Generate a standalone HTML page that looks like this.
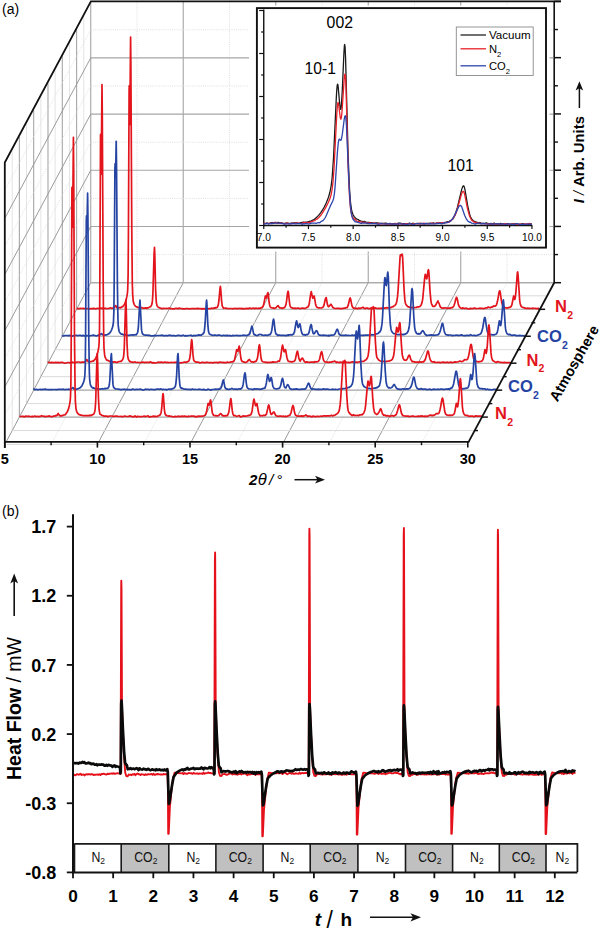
<!DOCTYPE html>
<html><head><meta charset="utf-8"><style>
html,body{margin:0;padding:0;background:#fff;}
svg{display:block;}
text{font-family:'Liberation Sans', sans-serif;}
</style></head><body>
<svg width="600" height="929" viewBox="0 0 600 929">
<rect width="600" height="929" fill="#fff"/>
<line x1="183.24" y1="282.70" x2="183.24" y2="1.70" stroke="#a6a6a6" stroke-width="1.1" />
<line x1="275.74" y1="282.70" x2="275.74" y2="1.70" stroke="#a6a6a6" stroke-width="1.1" />
<line x1="368.24" y1="282.70" x2="368.24" y2="1.70" stroke="#a6a6a6" stroke-width="1.1" />
<line x1="460.74" y1="282.70" x2="460.74" y2="1.70" stroke="#a6a6a6" stroke-width="1.1" />
<line x1="136.99" y1="282.70" x2="136.99" y2="1.70" stroke="#dedede" stroke-width="1" stroke-dasharray="1 1.2"/>
<line x1="229.49" y1="282.70" x2="229.49" y2="1.70" stroke="#dedede" stroke-width="1" stroke-dasharray="1 1.2"/>
<line x1="321.99" y1="282.70" x2="321.99" y2="1.70" stroke="#dedede" stroke-width="1" stroke-dasharray="1 1.2"/>
<line x1="414.49" y1="282.70" x2="414.49" y2="1.70" stroke="#dedede" stroke-width="1" stroke-dasharray="1 1.2"/>
<line x1="506.99" y1="282.70" x2="506.99" y2="1.70" stroke="#dedede" stroke-width="1" stroke-dasharray="1 1.2"/>
<line x1="90.74" y1="282.70" x2="553.24" y2="282.70" stroke="#a6a6a6" stroke-width="1.1" />
<line x1="90.74" y1="226.50" x2="553.24" y2="226.50" stroke="#a6a6a6" stroke-width="1.1" />
<line x1="90.74" y1="170.30" x2="553.24" y2="170.30" stroke="#a6a6a6" stroke-width="1.1" />
<line x1="90.74" y1="114.10" x2="553.24" y2="114.10" stroke="#a6a6a6" stroke-width="1.1" />
<line x1="90.74" y1="57.90" x2="553.24" y2="57.90" stroke="#a6a6a6" stroke-width="1.1" />
<line x1="90.74" y1="254.60" x2="553.24" y2="254.60" stroke="#dedede" stroke-width="1" stroke-dasharray="1 1.2"/>
<line x1="90.74" y1="198.40" x2="553.24" y2="198.40" stroke="#dedede" stroke-width="1" stroke-dasharray="1 1.2"/>
<line x1="90.74" y1="142.20" x2="553.24" y2="142.20" stroke="#dedede" stroke-width="1" stroke-dasharray="1 1.2"/>
<line x1="90.74" y1="86.00" x2="553.24" y2="86.00" stroke="#dedede" stroke-width="1" stroke-dasharray="1 1.2"/>
<line x1="90.74" y1="29.80" x2="553.24" y2="29.80" stroke="#dedede" stroke-width="1" stroke-dasharray="1 1.2"/>
<line x1="90.74" y1="282.70" x2="90.74" y2="1.70" stroke="#a6a6a6" stroke-width="1.1" />
<line x1="19.37" y1="417.10" x2="19.37" y2="137.10" stroke="#a6a6a6" stroke-width="1.1" />
<line x1="33.68" y1="390.15" x2="33.68" y2="110.15" stroke="#a6a6a6" stroke-width="1.1" />
<line x1="47.99" y1="363.20" x2="47.99" y2="83.20" stroke="#a6a6a6" stroke-width="1.1" />
<line x1="62.30" y1="336.25" x2="62.30" y2="56.25" stroke="#a6a6a6" stroke-width="1.1" />
<line x1="76.61" y1="309.30" x2="76.61" y2="29.30" stroke="#a6a6a6" stroke-width="1.1" />
<line x1="12.21" y1="430.57" x2="12.21" y2="150.57" stroke="#e4e4e4" stroke-width="1" />
<line x1="26.52" y1="403.62" x2="26.52" y2="123.62" stroke="#e4e4e4" stroke-width="1" />
<line x1="40.83" y1="376.67" x2="40.83" y2="96.67" stroke="#e4e4e4" stroke-width="1" />
<line x1="55.14" y1="349.72" x2="55.14" y2="69.72" stroke="#e4e4e4" stroke-width="1" />
<line x1="69.46" y1="322.77" x2="69.46" y2="42.77" stroke="#e4e4e4" stroke-width="1" />
<line x1="83.77" y1="295.82" x2="83.77" y2="15.82" stroke="#e4e4e4" stroke-width="1" />
<line x1="5.20" y1="386.20" x2="90.74" y2="226.50" stroke="#909090" stroke-width="0.9" />
<line x1="5.20" y1="330.00" x2="90.74" y2="170.30" stroke="#909090" stroke-width="0.9" />
<line x1="5.20" y1="273.80" x2="90.74" y2="114.10" stroke="#909090" stroke-width="0.9" />
<line x1="5.20" y1="217.60" x2="90.74" y2="57.90" stroke="#909090" stroke-width="0.9" />
<line x1="5.20" y1="414.30" x2="90.74" y2="254.60" stroke="#dedede" stroke-width="0.9" stroke-dasharray="1 1.2"/>
<line x1="5.20" y1="358.10" x2="90.74" y2="198.40" stroke="#dedede" stroke-width="0.9" stroke-dasharray="1 1.2"/>
<line x1="5.20" y1="301.90" x2="90.74" y2="142.20" stroke="#dedede" stroke-width="0.9" stroke-dasharray="1 1.2"/>
<line x1="5.20" y1="245.70" x2="90.74" y2="86.00" stroke="#dedede" stroke-width="0.9" stroke-dasharray="1 1.2"/>
<line x1="5.20" y1="189.50" x2="90.74" y2="29.80" stroke="#dedede" stroke-width="0.9" stroke-dasharray="1 1.2"/>
<line x1="6.20" y1="441.90" x2="90.74" y2="282.70" stroke="#8c8c8c" stroke-width="0.9" />
<line x1="98.70" y1="441.90" x2="183.24" y2="282.70" stroke="#8c8c8c" stroke-width="0.9" />
<line x1="191.20" y1="441.90" x2="275.74" y2="282.70" stroke="#8c8c8c" stroke-width="0.9" />
<line x1="283.70" y1="441.90" x2="368.24" y2="282.70" stroke="#8c8c8c" stroke-width="0.9" />
<line x1="376.20" y1="441.90" x2="460.74" y2="282.70" stroke="#8c8c8c" stroke-width="0.9" />
<line x1="52.45" y1="441.90" x2="136.99" y2="282.70" stroke="#dedede" stroke-width="0.9" stroke-dasharray="1 1.2"/>
<line x1="144.95" y1="441.90" x2="229.49" y2="282.70" stroke="#dedede" stroke-width="0.9" stroke-dasharray="1 1.2"/>
<line x1="237.45" y1="441.90" x2="321.99" y2="282.70" stroke="#dedede" stroke-width="0.9" stroke-dasharray="1 1.2"/>
<line x1="329.95" y1="441.90" x2="414.49" y2="282.70" stroke="#dedede" stroke-width="0.9" stroke-dasharray="1 1.2"/>
<line x1="422.45" y1="441.90" x2="506.99" y2="282.70" stroke="#dedede" stroke-width="0.9" stroke-dasharray="1 1.2"/>
<line x1="19.37" y1="417.10" x2="481.87" y2="417.10" stroke="#a6a6a6" stroke-width="1.1" />
<line x1="33.68" y1="390.15" x2="496.18" y2="390.15" stroke="#a6a6a6" stroke-width="1.1" />
<line x1="47.99" y1="363.20" x2="510.49" y2="363.20" stroke="#a6a6a6" stroke-width="1.1" />
<line x1="62.30" y1="336.25" x2="524.80" y2="336.25" stroke="#a6a6a6" stroke-width="1.1" />
<line x1="76.61" y1="309.30" x2="539.11" y2="309.30" stroke="#a6a6a6" stroke-width="1.1" />
<line x1="12.21" y1="430.57" x2="474.71" y2="430.57" stroke="#dadada" stroke-width="1.0" />
<line x1="26.52" y1="403.62" x2="489.02" y2="403.62" stroke="#dadada" stroke-width="1.0" />
<line x1="40.83" y1="376.67" x2="503.33" y2="376.67" stroke="#dadada" stroke-width="1.0" />
<line x1="55.14" y1="349.72" x2="517.64" y2="349.72" stroke="#dadada" stroke-width="1.0" />
<line x1="69.46" y1="322.77" x2="531.96" y2="322.77" stroke="#dadada" stroke-width="1.0" />
<line x1="83.77" y1="295.82" x2="546.27" y2="295.82" stroke="#dadada" stroke-width="1.0" />
<line x1="90.74" y1="282.70" x2="553.24" y2="282.70" stroke="#a6a6a6" stroke-width="1.1" />
<line x1="6.50" y1="444.40" x2="468.00" y2="444.40" stroke="#d8d8d8" stroke-width="1" />
<polyline points="76.6,308.7 76.6,308.7 77.9,308.7 79.2,308.6 80.5,308.4 81.8,308.5 83.1,308.4 84.4,308.7 85.7,309.0 87.0,308.5 88.3,308.5 89.6,308.8 90.9,308.7 92.2,308.6 93.5,308.4 94.8,308.6 96.1,308.8 97.4,308.3 98.7,308.5 100.0,308.1 101.3,308.2 101.9,308.6 102.6,308.1 103.9,308.5 105.2,308.2 106.5,308.6 107.8,308.5 109.1,308.4 110.4,307.8 111.7,308.2 111.7,308.3 113.0,308.2 113.0,308.2 113.7,307.9 114.3,307.3 115.5,305.8 115.6,305.5 116.6,307.4 116.9,307.6 117.1,307.8 118.2,307.7 118.3,307.9 119.5,307.6 120.3,307.7 120.8,307.8 121.5,307.3 122.1,306.7 122.5,306.7 123.4,305.8 123.4,305.8 124.2,304.8 124.7,304.0 125.7,301.4 126.0,300.2 126.8,296.9 127.4,293.4 127.7,289.7 128.1,276.4 128.4,237.7 129.1,90.7 129.2,86.9 129.2,85.8 129.3,87.2 129.7,121.8 129.8,124.6 129.8,123.4 130.6,37.1 130.9,67.5 131.8,231.7 132.3,283.5 132.7,294.5 133.2,301.0 133.7,303.0 133.8,303.4 134.3,304.6 135.1,305.8 135.1,305.9 136.0,306.6 136.4,306.9 137.7,307.1 137.7,307.4 139.0,307.7 140.2,307.9 140.3,308.2 141.6,307.6 142.9,308.3 143.8,308.1 144.2,308.1 145.5,307.9 146.8,308.4 147.2,307.9 148.1,307.9 148.9,307.5 149.4,307.0 150.2,306.9 150.7,306.5 151.1,305.9 151.8,304.6 152.0,303.8 152.4,300.9 152.9,293.7 154.1,253.1 154.5,247.4 154.8,254.1 155.6,289.8 156.3,302.1 156.8,304.9 157.2,305.9 157.6,306.5 158.5,307.5 158.9,307.5 159.8,307.9 160.9,308.1 161.1,308.3 162.4,308.6 163.7,308.2 164.3,308.4 165.0,308.5 166.3,308.4 167.6,308.5 168.9,308.2 170.2,308.4 170.4,308.6 171.5,308.5 172.8,308.8 174.1,308.9 175.4,308.3 176.7,308.4 178.0,308.8 179.3,308.1 180.6,308.5 181.9,308.6 183.2,308.9 184.5,308.8 185.8,308.6 187.1,308.5 188.4,308.6 189.7,309.0 191.0,308.5 192.3,308.6 193.6,308.7 194.9,308.6 196.2,308.6 197.5,308.4 198.8,308.6 200.1,308.5 201.4,308.9 202.2,308.6 202.7,308.8 204.0,308.6 205.3,308.8 206.6,308.5 207.9,308.8 209.2,308.5 210.5,308.7 211.8,308.1 212.3,308.4 213.1,308.5 214.4,307.8 214.7,308.2 215.7,307.5 216.2,307.9 217.0,307.4 217.1,307.4 217.6,306.8 218.3,304.6 218.4,304.4 219.0,299.7 220.0,288.4 220.4,286.3 220.7,288.6 221.6,301.2 222.2,305.6 222.2,305.8 222.6,306.8 223.2,307.6 223.5,308.3 224.1,308.0 224.8,308.0 225.6,308.3 226.1,308.2 227.4,308.5 228.7,308.6 230.0,308.5 231.3,308.5 232.6,308.8 232.7,308.6 233.9,308.7 235.2,308.3 236.5,308.6 237.8,308.6 239.1,308.3 240.4,308.7 241.7,308.4 243.0,308.9 244.3,308.7 245.6,308.6 246.9,308.4 248.2,308.6 249.5,308.1 250.8,308.3 252.1,308.6 252.3,308.5 253.4,308.0 254.7,308.7 256.0,308.0 257.3,308.6 258.5,308.3 258.6,308.1 259.9,308.4 261.2,307.9 261.5,307.8 262.5,306.8 262.6,307.0 263.4,305.5 263.8,304.1 265.3,296.2 265.5,296.0 266.2,297.5 266.4,298.0 266.5,297.5 267.6,293.1 267.9,292.6 268.3,294.2 269.0,301.3 269.5,304.5 270.0,306.3 270.3,306.9 270.6,307.3 271.2,307.7 271.6,307.8 272.3,308.0 272.9,307.9 274.2,308.4 275.1,308.1 275.5,307.8 276.1,307.6 276.8,306.8 277.5,306.0 277.9,305.8 278.1,305.7 278.3,306.1 279.3,307.5 279.4,307.5 280.0,308.0 280.7,307.8 281.6,308.1 282.0,308.4 283.3,307.9 283.6,307.9 284.4,307.5 284.6,307.6 285.0,307.0 285.8,305.1 285.9,304.8 286.5,301.6 287.6,292.7 288.1,291.2 288.5,292.9 289.5,302.5 289.8,304.6 290.1,305.8 290.5,306.8 291.0,307.4 291.1,307.5 291.7,307.9 292.4,307.9 292.9,308.2 293.7,308.3 295.0,308.2 296.3,308.3 297.2,308.4 297.6,308.1 298.9,308.2 300.2,308.8 301.5,308.2 302.8,308.0 303.3,308.3 304.1,308.3 305.4,308.4 306.2,307.9 306.7,307.3 307.8,307.1 308.0,306.8 308.5,306.0 309.2,304.0 309.3,303.1 310.8,293.2 311.3,291.6 312.6,297.9 312.8,298.2 313.0,298.0 313.2,297.3 313.8,296.2 314.0,296.0 314.2,296.1 315.5,303.7 315.8,305.1 316.1,305.9 316.9,307.2 317.1,307.4 318.2,307.8 318.4,307.9 319.7,307.8 319.9,308.0 321.0,308.0 321.5,307.9 322.3,307.5 322.5,307.5 323.2,306.9 323.6,306.2 324.1,304.9 324.9,301.0 325.5,298.6 326.0,297.5 326.2,297.5 326.4,298.6 327.5,304.9 327.5,304.6 328.2,306.4 328.6,306.7 328.8,306.5 329.1,306.5 330.1,305.3 330.5,304.6 331.0,304.3 331.4,304.8 331.4,304.8 332.7,307.2 332.8,307.4 333.5,308.0 334.0,308.0 334.4,308.2 335.3,308.5 336.6,308.3 337.7,308.4 337.9,308.4 339.2,308.4 340.5,308.7 341.8,308.6 342.8,308.4 343.1,308.4 344.4,308.1 345.4,308.1 345.7,307.7 346.7,307.7 347.0,307.7 347.5,306.9 348.1,305.7 348.3,305.1 349.6,299.3 349.7,298.9 350.2,298.0 350.6,298.8 350.9,300.4 351.6,304.1 352.2,306.5 352.2,306.3 352.9,307.5 353.5,308.1 354.1,308.1 354.8,308.5 356.1,308.2 356.6,308.4 357.4,308.8 358.7,308.1 359.7,308.4 360.0,308.5 360.9,308.1 361.3,308.1 362.6,307.5 363.0,307.2 363.9,308.1 365.2,308.7 365.2,308.3 366.5,308.2 367.8,308.1 367.9,308.5 369.1,308.7 370.4,308.2 371.7,308.5 373.0,308.7 374.3,308.1 375.6,307.9 376.9,308.5 378.2,308.4 379.5,308.3 380.8,308.4 382.1,308.1 383.3,308.3 383.4,307.9 384.7,308.2 386.0,307.9 387.3,307.6 387.7,308.0 388.6,308.0 389.9,307.7 390.7,307.5 391.2,307.5 392.5,306.7 393.0,306.7 393.8,306.1 395.1,305.1 395.1,305.4 396.1,303.9 396.4,302.7 396.8,301.4 397.5,296.9 398.1,290.0 400.1,256.4 400.4,254.9 401.2,255.6 402.0,254.1 402.4,255.2 402.7,258.4 404.0,288.4 404.8,299.4 405.3,302.5 405.5,303.3 406.0,304.6 406.8,305.5 407.0,305.9 408.1,306.8 408.6,306.9 409.4,307.2 410.2,307.3 410.7,307.9 412.0,307.2 412.2,307.6 413.3,307.8 414.6,307.6 414.6,307.6 415.9,307.5 416.8,307.4 417.2,306.9 418.4,307.0 418.5,306.9 419.7,306.5 419.8,306.6 420.5,305.8 421.1,305.1 421.2,304.9 422.1,302.3 422.4,300.8 422.8,298.1 424.6,278.7 425.1,274.9 425.3,274.3 425.5,274.5 426.3,278.3 426.5,278.8 426.8,278.7 427.2,276.9 428.0,270.7 428.4,269.7 428.6,270.2 428.9,272.6 430.1,292.4 430.9,300.6 431.3,303.1 431.5,303.8 431.9,304.8 432.5,305.8 432.8,306.3 433.5,306.4 434.1,306.5 434.5,306.4 435.3,305.9 435.4,305.2 436.0,304.8 436.7,303.1 437.4,301.9 437.9,301.4 438.0,300.9 438.4,302.1 439.3,304.0 440.0,306.3 440.6,307.2 440.6,307.1 441.3,307.7 441.9,308.2 443.2,308.1 443.2,308.1 444.5,307.9 445.8,308.0 446.8,308.2 447.1,308.5 448.4,308.2 449.7,308.1 450.2,308.1 451.0,307.9 452.1,307.7 452.3,307.6 453.1,306.9 453.6,306.4 454.0,305.5 454.9,302.7 456.0,298.2 456.2,297.8 456.3,297.5 456.6,297.3 457.1,298.4 457.5,299.9 458.2,303.7 458.8,305.8 458.9,305.9 459.7,307.3 460.1,307.5 460.8,308.0 461.4,308.4 462.7,308.3 462.7,307.9 464.0,308.3 465.3,308.4 465.8,308.4 466.6,308.1 467.9,308.9 469.2,308.9 470.5,308.4 471.8,308.7 473.1,308.6 474.4,307.9 475.7,308.6 477.0,308.5 478.3,308.5 479.0,308.5 479.6,308.2 480.9,308.4 482.2,308.4 483.5,308.7 484.5,308.3 484.8,308.3 486.1,307.9 487.4,307.8 488.0,307.2 488.7,307.2 489.9,307.6 490.0,307.6 490.8,307.6 491.3,306.9 491.6,307.2 492.6,306.9 493.7,305.8 493.9,306.0 495.2,306.2 495.5,305.9 496.3,305.1 496.5,304.8 497.2,302.3 497.8,299.6 499.0,292.6 499.4,291.3 499.7,290.8 500.0,291.2 500.2,292.4 501.7,302.4 501.9,303.0 502.4,304.9 503.0,306.3 503.0,306.3 503.9,307.2 504.3,307.4 505.5,307.7 505.6,307.7 506.9,308.1 508.0,307.7 508.2,307.8 509.5,307.4 510.1,307.3 510.8,306.7 511.1,306.5 511.8,305.1 512.1,303.7 513.6,296.1 513.7,296.0 513.8,296.3 514.6,299.0 514.7,299.5 514.9,299.1 515.2,298.2 515.9,292.1 517.2,274.6 517.4,272.4 517.7,271.9 518.1,275.6 519.6,299.3 519.9,301.9 520.2,303.7 521.0,306.0 521.2,306.4 521.6,306.8 522.4,307.3 522.5,307.3 523.8,307.6 525.1,308.1 525.2,308.1 526.4,308.5 527.7,308.2 529.0,308.3 529.9,308.4 530.3,308.4 531.6,308.5 532.9,308.1 534.2,308.5 535.5,308.3 536.8,308.8 538.1,308.4 539.1,308.6" fill="none" stroke="#e3141c" stroke-width="1.7" stroke-linejoin="round" />
<polyline points="62.3,335.6 62.3,335.8 63.6,336.0 64.9,335.5 66.2,335.5 67.5,335.7 68.8,335.6 70.1,335.4 71.4,335.7 72.7,336.1 74.0,335.5 75.3,335.5 76.6,335.3 77.9,335.7 79.2,335.3 80.5,335.3 81.8,335.9 83.1,335.4 84.4,335.8 85.7,335.9 87.0,335.6 88.3,335.7 89.6,336.0 90.9,335.5 92.2,335.4 93.5,335.2 94.8,335.5 96.1,335.8 97.4,335.6 97.7,335.4 98.7,335.1 99.8,335.1 100.0,334.7 101.3,333.6 101.5,333.7 102.6,334.8 103.1,335.0 103.9,335.0 105.2,335.1 106.0,334.9 106.5,334.9 107.8,334.3 108.2,334.2 109.1,333.5 109.9,332.8 110.4,332.1 111.4,330.3 111.7,329.6 112.5,327.2 113.0,325.3 113.1,324.5 113.5,321.3 113.9,310.9 114.2,280.9 114.9,168.7 115.1,163.7 115.4,176.0 115.5,176.8 115.6,175.7 116.2,141.3 116.5,162.1 117.4,284.7 117.9,317.0 118.2,325.0 118.2,325.2 118.8,330.1 119.2,331.5 119.5,332.2 119.9,332.7 120.6,333.6 120.8,333.7 121.6,334.2 122.1,334.0 123.3,334.7 123.4,334.9 124.7,334.5 125.6,335.1 126.0,334.7 127.3,335.4 128.6,335.4 129.9,335.2 131.2,334.8 132.5,335.2 132.5,335.1 133.8,334.9 134.3,334.9 135.1,334.9 135.7,334.6 136.4,334.8 136.6,334.0 137.3,333.2 137.7,332.2 137.9,331.0 138.4,326.7 139.7,303.0 140.0,300.0 141.5,329.5 141.6,330.2 142.2,333.1 142.7,334.0 142.9,333.9 143.4,334.6 144.2,334.9 145.2,335.1 145.5,335.1 146.8,335.0 148.1,335.4 148.3,335.4 149.4,335.2 150.7,335.8 152.0,335.8 153.3,335.8 154.6,335.4 155.9,335.7 157.2,335.5 158.5,335.5 159.8,335.5 161.1,335.3 162.4,335.2 163.7,335.8 165.0,335.5 166.3,335.6 166.8,335.6 167.6,335.8 168.9,335.2 170.2,335.4 171.5,335.6 172.8,335.7 174.1,335.5 175.4,335.8 176.7,335.6 178.0,335.3 179.3,335.4 180.6,335.8 181.9,335.7 183.2,335.1 184.5,335.9 185.8,335.7 187.1,335.9 188.4,335.5 189.7,335.5 191.0,335.2 192.3,336.1 193.6,335.4 194.8,335.5 194.9,335.9 196.2,335.3 197.5,335.4 198.8,334.8 199.4,335.2 200.1,335.0 201.4,335.1 201.9,334.6 202.7,333.9 203.0,334.0 203.7,333.1 204.0,332.6 204.2,331.7 204.5,329.6 205.2,322.2 206.3,302.5 206.6,300.0 206.9,303.6 207.8,323.7 207.9,325.1 208.4,330.8 208.8,332.6 209.2,333.3 209.4,333.9 210.4,334.6 210.5,334.5 211.8,335.0 211.8,335.1 213.1,335.3 214.4,335.2 215.7,335.2 216.3,335.5 217.0,335.4 218.3,335.2 219.6,335.2 220.9,335.5 222.2,335.8 223.5,335.2 224.8,335.6 226.1,335.4 227.4,335.6 227.4,335.3 228.7,335.8 230.0,335.4 231.3,336.0 232.6,335.4 233.9,335.7 235.2,335.5 236.5,335.4 237.8,335.7 239.1,335.5 240.4,335.7 241.7,335.5 243.0,335.5 243.0,335.2 244.3,335.4 245.6,335.4 246.9,335.6 248.0,335.1 248.2,334.9 249.1,334.7 249.5,334.2 249.9,333.5 250.5,331.6 250.8,329.9 251.5,327.1 251.9,326.2 252.1,326.6 252.3,327.1 253.4,332.6 253.5,333.2 254.0,334.3 254.6,334.9 254.7,334.5 255.9,335.2 256.0,335.2 257.3,335.6 257.9,335.3 258.6,334.8 259.9,334.4 260.6,334.5 261.2,334.5 262.2,335.2 262.5,335.0 263.2,335.3 263.8,335.5 265.1,335.1 266.4,335.1 266.5,335.3 267.7,335.3 269.0,334.9 269.0,334.7 269.8,334.6 270.3,334.4 270.4,334.2 271.3,332.4 271.6,331.0 272.0,328.8 273.1,320.4 273.6,319.1 274.0,320.9 275.0,330.0 275.5,332.4 275.5,332.8 275.9,333.8 276.4,334.4 276.8,334.2 277.2,334.9 278.1,335.6 278.4,335.1 279.4,335.2 280.7,335.4 282.0,335.4 282.4,335.4 283.3,335.4 284.6,335.4 285.9,335.8 287.2,335.1 288.5,335.3 288.5,334.9 289.8,334.9 291.1,334.7 291.5,334.9 292.4,334.8 293.1,334.3 293.7,333.7 293.8,333.3 294.5,331.6 295.0,328.7 296.1,322.2 296.6,320.8 296.8,321.5 297.6,325.5 297.6,326.0 298.0,327.3 298.2,327.5 298.5,327.3 298.9,326.1 299.5,324.2 299.7,323.8 299.9,323.8 300.2,325.1 300.3,325.2 301.2,330.9 301.5,331.4 301.8,333.0 302.6,334.3 302.8,334.6 303.9,334.8 304.1,334.6 305.4,335.2 305.4,334.9 306.7,334.5 306.9,334.8 307.8,334.4 308.0,334.2 308.4,333.8 309.2,331.9 309.3,331.2 310.6,325.4 310.6,325.6 311.1,324.5 311.6,325.6 311.9,327.9 312.7,331.8 313.2,333.4 313.4,333.6 313.9,333.8 314.5,333.5 314.5,333.4 315.8,331.2 316.0,331.0 316.5,330.7 317.1,331.2 318.4,334.4 318.4,334.3 319.0,334.9 319.7,335.1 320.0,335.2 321.0,335.3 322.3,335.4 323.6,335.1 324.9,335.4 326.2,335.4 327.5,335.8 328.6,335.4 328.8,335.9 330.1,335.4 331.4,335.1 332.0,335.3 332.7,335.2 333.6,335.0 334.0,334.7 334.4,334.6 335.0,333.8 335.3,333.1 336.6,330.0 336.7,329.8 337.2,329.2 337.6,329.8 337.9,330.3 338.6,332.8 339.2,334.2 339.2,334.3 340.0,334.9 340.5,335.1 341.1,335.3 341.8,335.4 343.1,335.4 344.4,335.3 345.7,335.2 347.0,335.4 348.0,335.5 348.3,335.3 349.6,335.5 350.9,335.5 352.2,335.1 353.5,335.5 354.8,335.1 356.1,335.3 357.4,335.4 358.7,334.9 360.0,335.4 361.3,335.4 362.6,335.3 363.9,335.2 364.0,335.3 365.2,335.2 366.5,335.0 367.8,335.1 369.1,335.0 370.4,335.0 371.1,335.0 371.7,334.6 373.0,334.8 374.3,334.6 375.5,334.3 375.6,334.3 376.9,333.8 377.9,333.5 378.2,333.5 379.5,331.9 379.6,332.2 380.6,330.5 380.8,330.3 381.4,327.8 382.1,323.0 382.6,316.3 384.2,285.6 384.7,278.6 384.9,277.7 385.0,277.7 385.1,278.0 385.9,284.5 386.1,285.4 386.3,285.5 386.7,282.8 387.5,273.7 387.8,272.1 388.3,276.5 389.5,311.3 390.4,325.2 391.0,328.9 391.2,329.9 391.6,331.1 392.5,332.5 392.6,332.6 393.8,333.6 394.2,333.7 395.1,333.8 396.0,334.2 396.4,334.3 397.7,334.7 398.4,334.6 399.0,334.7 400.3,334.7 401.2,334.6 401.6,334.2 402.9,334.6 403.7,334.4 404.2,334.6 405.4,333.9 405.5,334.1 406.7,333.3 406.8,333.2 407.5,332.4 408.1,331.0 408.2,331.2 409.0,327.8 409.4,325.2 409.7,322.4 411.6,292.8 411.8,289.8 412.1,288.6 412.6,292.1 413.8,316.8 414.6,327.1 414.6,327.2 415.1,330.2 415.7,332.0 415.9,331.8 416.4,333.1 417.2,333.8 417.6,333.9 418.5,333.7 418.9,334.1 419.8,333.7 420.1,333.8 420.9,333.1 421.1,332.6 422.3,331.0 422.4,331.2 422.8,330.7 423.3,331.1 423.7,331.7 424.9,334.0 425.0,334.2 425.5,334.6 426.3,335.3 426.3,334.9 427.6,335.5 428.8,335.2 428.9,335.2 430.2,335.2 431.5,334.9 432.8,335.1 433.2,335.2 434.1,335.3 435.4,335.2 436.2,335.0 436.7,335.0 437.9,334.6 438.0,334.8 439.0,333.8 439.3,333.2 439.8,332.3 440.5,330.0 440.6,329.7 441.9,324.4 441.9,324.5 442.2,323.5 442.5,323.3 443.0,324.4 443.2,325.6 444.1,330.4 444.5,332.1 444.8,332.8 445.6,334.2 445.8,334.5 446.7,334.9 447.1,334.9 448.4,335.3 448.5,335.2 449.7,335.0 451.0,335.0 451.3,335.4 452.3,335.6 453.6,335.4 454.9,335.5 456.2,335.0 457.5,335.4 458.8,335.3 460.1,335.3 461.4,334.9 462.7,335.4 463.3,335.5 464.0,335.7 465.3,335.6 466.6,335.3 467.9,335.4 469.2,335.6 470.5,334.7 471.8,335.3 473.1,335.5 473.7,335.3 474.4,335.4 475.7,335.6 477.0,335.3 478.3,334.9 478.6,334.8 479.6,334.5 479.7,334.4 480.5,333.8 480.9,333.5 481.2,332.9 481.7,331.7 482.2,329.9 482.7,328.0 484.2,319.0 484.5,317.8 484.8,317.4 485.1,317.8 485.4,319.1 486.1,324.3 487.0,329.9 487.4,331.8 487.5,331.9 488.1,333.3 488.7,334.5 489.0,334.2 490.0,334.5 490.6,334.7 491.3,334.7 492.6,334.8 493.3,334.7 493.9,335.0 495.2,334.4 495.5,334.3 496.5,334.0 496.7,333.4 497.4,331.8 497.8,329.9 499.3,320.8 499.4,320.8 499.5,321.2 500.4,325.3 500.4,325.4 500.6,325.5 500.9,324.8 501.6,319.4 502.9,302.5 503.1,300.5 503.4,300.0 503.8,303.6 505.3,326.5 505.6,328.9 505.9,330.8 506.7,333.0 506.9,333.5 507.3,333.8 508.2,334.4 508.2,334.6 509.5,334.4 510.8,334.8 510.9,335.1 512.1,335.3 513.4,335.1 514.7,335.0 515.6,335.4 516.0,335.7 517.3,335.6 518.6,335.6 519.9,335.4 521.2,335.8 522.5,335.5 523.8,335.8 524.8,335.6" fill="none" stroke="#2443a2" stroke-width="1.7" stroke-linejoin="round" />
<polyline points="48.0,362.6 48.0,362.3 49.3,362.3 50.6,362.6 51.9,362.4 53.2,362.7 54.5,362.6 55.8,362.3 57.1,362.6 58.4,362.4 59.7,362.8 61.0,362.4 62.3,362.4 63.6,362.8 64.9,363.1 66.2,363.0 67.5,362.5 68.8,362.5 70.1,362.9 71.4,362.4 72.7,362.2 73.3,362.5 74.0,362.5 75.3,362.6 76.6,362.2 77.9,362.0 79.2,362.0 80.5,362.5 81.8,362.1 83.1,362.2 83.1,362.2 84.4,362.1 84.4,362.1 85.1,361.7 85.7,361.3 86.8,359.6 87.0,359.6 87.9,361.2 88.3,361.7 88.5,361.7 89.6,361.6 89.7,361.8 90.9,361.6 91.7,361.5 92.2,361.1 92.9,361.1 93.5,361.1 93.9,360.5 94.8,359.7 94.8,359.6 95.6,358.6 96.1,357.4 97.1,355.1 97.4,353.9 98.2,350.5 98.8,346.9 99.1,343.1 99.5,329.6 99.8,289.9 100.5,139.5 100.5,135.5 100.6,134.4 100.7,135.9 101.0,171.3 101.2,174.1 101.2,172.9 102.0,84.6 102.3,115.7 103.2,283.7 103.7,336.8 104.0,348.1 104.6,354.7 105.0,356.8 105.2,357.2 105.7,358.4 106.4,359.6 106.5,359.9 107.4,360.5 107.8,360.3 109.1,361.0 109.1,361.3 110.4,361.5 111.5,361.8 111.7,362.4 113.0,362.1 114.3,361.9 115.1,361.9 115.6,362.1 116.9,362.4 118.2,361.7 118.5,361.8 119.5,361.5 120.3,361.4 120.8,361.5 121.6,360.8 122.1,360.4 122.5,359.8 123.1,358.4 123.4,357.6 123.8,354.6 124.3,347.2 125.5,305.7 125.9,299.9 126.2,306.7 127.0,343.3 127.7,355.9 128.2,358.8 128.6,359.7 129.0,360.4 129.9,361.7 130.2,361.4 131.2,362.2 132.3,362.0 132.5,362.2 133.8,362.3 135.1,361.8 135.7,362.3 136.4,362.5 137.7,362.3 139.0,362.5 140.3,362.6 141.6,362.4 141.7,362.5 142.9,362.0 144.2,362.6 145.5,362.3 146.8,362.4 148.1,362.4 149.4,362.4 150.7,361.9 152.0,362.8 153.3,362.6 154.6,362.8 155.9,363.0 157.2,362.5 158.5,362.1 159.8,362.3 161.1,362.2 162.4,362.4 163.7,362.6 165.0,362.0 166.3,362.6 167.6,362.2 168.9,362.6 170.2,362.5 171.5,362.4 172.8,362.5 173.6,362.5 174.1,362.4 175.4,362.4 176.7,362.1 178.0,362.5 179.3,362.9 180.6,362.9 181.9,362.7 183.2,362.5 183.7,362.3 184.5,362.1 185.8,362.5 186.1,362.1 187.1,361.9 187.6,361.8 188.4,361.3 188.5,361.3 189.0,360.7 189.7,358.6 189.8,358.2 190.4,353.4 191.3,341.8 191.7,339.7 192.1,342.0 193.0,354.9 193.6,359.5 193.6,359.6 194.0,360.6 194.6,361.4 194.9,361.5 195.5,361.9 196.2,362.1 197.0,362.2 197.5,362.0 198.8,362.3 200.1,363.0 201.4,362.4 202.7,362.4 204.0,362.6 204.1,362.5 205.3,362.7 206.6,362.2 207.9,362.5 209.2,362.7 210.5,362.6 211.8,362.5 213.1,362.9 214.4,362.3 215.7,362.5 217.0,362.4 218.3,362.9 219.6,362.0 220.9,362.3 222.2,362.3 223.5,362.6 223.6,362.4 224.8,362.6 226.1,362.7 227.4,362.0 228.7,362.5 229.9,362.2 230.0,362.1 231.3,361.9 232.6,361.9 232.9,361.7 233.9,360.8 234.0,360.9 234.7,359.3 235.2,357.0 236.6,349.8 236.9,349.6 237.6,351.1 237.7,351.3 237.8,351.2 237.9,351.2 239.0,346.6 239.2,346.1 239.6,347.8 240.4,354.6 240.9,358.3 241.4,360.2 241.7,360.7 242.0,361.2 242.6,361.6 243.0,361.8 243.7,361.9 244.3,362.1 245.6,362.4 246.5,362.0 246.9,361.8 247.5,361.5 248.2,360.3 248.8,359.8 249.3,359.6 249.5,359.5 249.7,359.9 250.7,361.4 250.8,361.3 251.4,361.9 252.1,361.7 253.0,362.0 253.4,362.1 254.7,361.6 254.9,361.7 255.8,361.4 256.0,360.8 256.4,360.8 257.2,358.9 257.3,358.8 257.9,355.3 259.0,346.2 259.4,344.7 259.8,346.5 260.8,356.3 261.2,358.5 261.4,359.6 261.8,360.7 262.3,361.3 262.5,361.5 263.1,361.8 263.8,362.0 264.3,362.0 265.1,362.3 266.4,362.2 267.7,362.6 268.5,362.3 269.0,362.4 270.3,362.4 271.6,362.4 272.9,361.9 274.2,362.1 274.7,362.2 275.5,362.0 276.8,362.0 277.6,361.7 278.1,361.2 279.1,361.0 279.4,361.1 279.9,359.8 280.5,357.8 280.7,357.0 282.1,346.7 282.6,345.1 284.0,351.5 284.2,351.8 284.4,351.7 284.6,351.1 285.2,349.8 285.4,349.6 285.6,349.7 286.9,357.5 287.2,358.3 287.5,359.7 288.2,361.1 288.5,361.2 289.6,361.7 289.8,361.7 291.1,361.7 291.2,361.9 292.4,361.8 292.9,361.7 293.7,361.3 293.9,361.4 294.6,360.8 295.0,360.2 295.5,358.7 296.3,354.9 296.9,352.3 297.4,351.1 297.6,351.5 297.8,352.3 298.9,358.6 298.9,358.4 299.6,360.3 300.0,360.5 300.2,361.2 300.5,360.4 301.5,358.7 301.9,358.4 302.4,358.1 302.8,358.5 302.8,358.6 304.1,361.0 304.2,361.3 304.8,361.9 305.4,362.3 305.7,362.1 306.7,361.9 308.0,362.2 309.1,362.3 309.3,362.3 310.6,362.1 311.9,362.1 313.2,362.2 314.2,362.3 314.5,361.7 315.8,361.8 316.8,362.0 317.1,361.8 318.1,361.5 318.4,361.3 318.8,360.8 319.4,359.5 319.7,358.7 321.0,352.6 321.1,352.6 321.6,351.6 322.0,352.5 322.3,353.9 323.0,357.9 323.6,360.3 323.6,360.2 324.3,361.4 324.9,361.9 325.5,362.0 326.2,362.1 327.5,362.0 327.9,362.3 328.8,362.4 330.1,362.2 331.1,362.2 331.4,361.9 332.3,362.0 332.7,361.6 334.0,361.5 334.4,361.1 335.3,361.6 336.6,362.5 336.6,362.2 337.9,362.2 339.2,362.6 339.3,362.4 340.5,362.2 341.8,362.3 343.1,363.0 344.4,362.6 345.7,362.2 347.0,362.3 348.3,362.4 349.6,362.6 350.9,362.2 352.2,361.8 353.5,362.1 354.7,362.2 354.8,362.2 356.1,362.1 357.4,362.3 358.7,362.0 359.1,361.9 360.0,362.0 361.3,361.3 362.1,361.4 362.6,361.5 363.9,361.4 364.4,360.6 365.2,360.3 366.5,359.3 366.5,359.2 367.4,357.7 367.8,356.7 368.2,355.1 368.8,350.6 369.4,343.5 371.4,309.1 371.8,307.6 372.6,308.2 373.4,306.7 373.8,307.8 374.1,311.1 375.4,341.9 376.2,353.1 376.7,356.3 376.9,357.4 377.4,358.4 378.2,359.3 378.4,359.8 379.5,360.5 379.9,360.7 380.8,361.1 381.5,361.2 382.1,361.5 383.4,361.3 383.5,361.4 384.7,361.6 386.0,361.5 386.0,361.4 387.3,361.4 388.2,361.2 388.6,361.1 389.8,360.9 389.9,360.6 391.0,360.3 391.2,360.2 391.9,359.7 392.5,359.1 392.6,358.7 393.5,356.1 393.8,354.3 394.2,351.7 396.0,331.9 396.5,328.0 396.6,327.4 396.9,327.6 397.7,331.5 397.9,332.0 398.1,331.9 398.6,330.0 399.4,323.7 399.7,322.7 400.0,323.1 400.2,325.6 401.5,345.9 402.2,354.3 402.7,356.8 402.9,357.5 403.2,358.6 403.9,359.6 404.2,360.0 404.9,360.2 405.5,360.1 405.9,360.3 406.7,359.7 406.8,359.6 407.4,358.6 408.1,356.8 408.7,355.6 409.3,355.1 409.4,355.4 409.8,355.8 410.7,359.2 411.3,360.2 412.0,361.1 412.0,361.6 412.7,361.6 413.3,361.7 414.6,361.9 414.6,362.1 415.9,362.1 417.2,362.1 418.2,362.1 418.5,362.5 419.8,361.7 421.1,362.3 421.6,362.0 422.4,361.8 423.4,361.6 423.7,361.8 424.5,360.8 425.0,360.1 425.3,359.4 426.3,356.1 427.4,351.9 427.6,351.4 427.7,351.1 428.0,350.9 428.5,352.0 428.9,354.1 429.6,357.4 430.2,359.5 430.3,359.8 431.1,361.1 431.5,361.6 432.2,361.8 432.8,361.8 434.0,362.2 434.1,361.6 435.4,362.5 436.7,362.5 437.2,362.3 438.0,362.4 439.3,362.4 440.6,362.7 441.9,362.3 443.2,362.2 444.5,362.4 445.8,362.7 447.1,362.1 448.4,362.7 449.7,362.2 450.4,362.4 451.0,362.1 452.3,362.7 453.6,362.3 454.9,361.9 455.9,362.2 456.2,362.0 457.5,362.0 458.8,361.5 459.4,361.1 460.1,361.1 461.2,361.5 461.4,361.6 462.1,361.5 462.7,361.4 463.0,361.1 464.0,360.2 465.1,359.6 465.3,359.7 466.6,359.8 466.9,359.7 467.7,358.9 467.9,358.3 468.6,356.0 469.2,353.1 470.4,346.1 470.7,344.8 471.1,344.3 471.3,344.7 471.6,345.9 473.1,356.1 473.2,356.8 473.7,358.8 474.3,360.2 474.4,360.2 475.3,361.1 475.7,361.1 476.8,361.5 477.0,361.5 478.3,361.9 479.3,361.6 479.6,361.6 480.9,361.5 481.4,361.1 482.2,361.0 482.5,360.3 483.2,358.9 483.5,357.8 484.9,349.7 485.1,349.6 485.2,349.9 486.0,352.7 486.1,353.4 486.3,352.7 486.6,351.9 487.3,345.6 488.5,327.6 488.8,325.4 489.0,325.0 489.5,328.7 491.0,352.9 491.3,355.3 491.6,357.4 492.4,359.8 492.6,360.4 493.0,360.6 493.8,361.2 493.9,361.2 495.2,362.2 496.5,362.4 496.5,362.0 497.8,361.6 499.1,362.0 500.4,362.5 501.3,362.3 501.7,362.5 503.0,362.6 504.3,362.4 505.6,362.6 506.9,362.6 508.2,362.5 509.5,362.7 510.5,362.5" fill="none" stroke="#e3141c" stroke-width="1.7" stroke-linejoin="round" />
<polyline points="33.7,389.5 33.7,389.0 35.0,389.7 36.3,389.3 37.6,389.8 38.9,389.5 40.2,389.3 41.5,389.6 42.8,389.3 44.1,389.3 45.4,389.1 46.7,389.5 48.0,389.6 49.3,389.7 50.6,389.5 51.9,389.7 53.2,389.5 54.5,389.5 55.8,389.6 57.1,389.7 58.4,389.4 59.7,389.4 61.0,389.4 62.3,389.4 63.6,389.2 64.9,389.7 66.2,389.3 67.5,389.5 68.8,389.1 69.1,389.3 70.1,389.3 71.1,389.0 71.4,388.9 72.7,387.5 72.9,387.5 74.0,389.1 74.5,388.9 75.3,389.1 76.6,389.3 77.4,388.8 77.9,388.9 79.2,388.1 79.6,388.1 80.5,387.3 81.2,386.6 81.8,386.0 82.7,384.2 83.1,383.4 83.9,381.0 84.4,379.0 84.5,378.3 84.9,375.0 85.3,364.5 85.6,334.2 86.3,220.9 86.5,215.8 86.8,228.3 86.9,229.1 87.0,228.0 87.6,193.2 87.9,214.2 88.8,338.1 89.3,370.8 89.6,378.2 89.6,379.0 90.2,383.9 90.6,385.4 90.9,385.5 91.2,386.6 92.0,387.4 92.2,387.5 93.0,388.1 93.5,387.7 94.7,388.6 94.8,388.7 96.1,388.7 96.9,389.0 97.4,388.8 98.7,389.0 100.0,389.2 101.3,388.8 102.6,388.7 103.8,389.0 103.9,388.8 105.2,388.4 105.7,388.8 106.5,388.4 107.1,388.5 107.8,388.5 108.0,387.9 108.7,387.1 109.1,385.7 109.3,384.8 109.8,380.5 111.0,356.6 111.4,353.6 112.9,383.3 113.0,384.4 113.5,387.0 114.0,387.9 114.3,387.8 114.8,388.5 115.6,388.9 116.5,389.0 116.9,389.0 118.2,389.2 119.5,389.4 119.7,389.3 120.8,389.8 122.1,389.4 123.4,389.4 124.7,389.2 126.0,389.6 127.3,389.4 128.6,389.7 129.9,389.5 131.2,389.9 132.5,389.0 133.8,389.4 135.1,389.7 136.4,389.4 137.7,389.3 138.2,389.5 139.0,389.4 140.3,389.1 141.6,389.5 142.9,390.1 144.2,389.8 145.5,389.2 146.8,389.3 148.1,389.4 149.4,389.7 150.7,389.3 152.0,389.3 153.3,389.7 154.6,389.7 155.9,389.4 157.2,389.2 158.5,389.1 159.8,389.3 161.1,388.9 162.4,389.6 163.7,389.3 165.0,389.5 166.2,389.4 166.3,389.8 167.6,389.6 168.9,389.0 170.2,389.4 170.8,389.1 171.5,389.3 172.8,388.5 173.3,388.5 174.1,387.9 174.4,387.9 175.0,387.0 175.4,386.1 175.5,385.6 175.9,383.5 176.6,375.9 177.6,356.0 178.0,353.6 178.3,357.1 179.2,377.5 179.3,378.4 179.8,384.6 180.2,386.5 180.6,387.8 180.8,387.7 181.8,388.5 181.9,388.0 183.2,388.7 183.2,389.0 184.5,389.1 185.8,389.2 187.1,389.4 187.7,389.4 188.4,389.4 189.7,389.4 191.0,389.7 192.3,388.9 193.6,389.5 194.9,389.3 196.2,389.5 197.5,389.5 198.7,389.5 198.8,389.2 200.1,389.3 201.4,389.7 202.7,389.6 204.0,389.3 205.3,390.0 206.6,390.0 207.9,389.1 209.2,389.5 210.5,390.1 211.8,389.6 213.1,389.5 214.3,389.4 214.4,389.3 215.7,389.2 217.0,389.3 218.3,389.1 219.4,389.0 219.6,389.2 220.5,388.5 220.9,388.0 221.3,387.4 221.9,385.5 222.2,384.0 222.9,380.9 223.3,380.1 223.5,380.0 223.7,380.9 224.8,386.8 224.9,387.1 225.4,388.2 226.0,388.8 226.1,388.6 227.3,389.1 227.4,389.1 228.7,389.5 229.3,389.2 230.0,389.2 231.3,388.7 232.0,388.4 232.6,388.7 233.5,389.1 233.9,389.2 234.5,389.2 235.2,389.2 236.5,389.2 237.8,389.4 237.9,389.2 239.1,388.8 240.4,388.8 240.4,389.2 241.2,388.5 241.7,388.2 241.8,388.1 242.7,386.3 243.0,384.9 243.4,382.7 244.5,374.2 245.0,372.8 245.4,374.6 246.4,383.8 246.9,386.4 246.9,386.7 247.3,387.7 247.8,388.3 248.2,388.4 248.6,388.8 249.5,389.0 249.7,389.0 250.8,389.0 252.1,389.5 253.4,389.1 253.8,389.3 254.7,388.7 256.0,389.1 257.3,388.8 258.6,389.2 259.8,389.2 259.9,389.4 261.2,389.2 262.5,388.5 262.8,388.8 263.8,388.3 264.4,388.2 265.1,387.9 265.2,387.2 265.8,385.4 266.4,382.9 267.4,375.9 267.9,374.5 268.2,375.2 269.0,379.7 269.0,379.8 269.4,381.1 269.6,381.3 269.9,381.1 270.3,380.2 270.8,378.0 271.1,377.6 271.3,377.6 271.6,379.2 271.7,379.0 272.6,384.8 272.9,386.3 273.2,386.9 273.9,388.2 274.2,388.4 275.3,388.7 275.5,388.8 276.8,389.0 276.8,388.8 278.1,388.5 278.3,388.7 279.2,388.3 279.4,387.9 279.8,387.7 280.6,385.7 280.7,385.5 282.0,379.2 282.0,379.4 282.5,378.3 282.9,379.4 283.3,381.4 284.1,385.7 284.6,387.1 284.8,387.4 285.3,387.7 285.9,387.4 285.9,388.0 287.2,385.0 287.4,384.9 287.9,384.6 288.5,385.5 289.8,388.3 289.8,388.3 290.4,388.8 291.1,389.2 291.4,389.1 292.4,389.5 293.7,389.2 295.0,389.1 296.3,388.9 297.6,389.1 298.9,389.5 300.0,389.3 300.2,389.3 301.5,389.0 302.8,389.1 303.4,389.2 304.1,389.1 305.0,388.9 305.4,388.9 305.8,388.4 306.4,387.7 306.7,387.0 308.0,383.8 308.1,383.6 308.6,383.1 309.0,383.7 309.3,384.0 310.0,386.7 310.6,388.0 310.6,387.8 311.3,388.8 311.9,389.4 312.5,389.1 313.2,388.7 314.5,389.2 315.8,389.4 317.1,389.3 318.4,389.2 319.4,389.4 319.7,389.4 321.0,389.4 322.3,389.3 323.6,388.9 324.9,389.3 326.2,389.1 327.5,389.2 328.8,389.4 330.1,389.5 331.4,389.5 332.7,389.1 334.0,389.5 335.3,389.5 335.4,389.2 336.6,389.5 337.9,389.5 339.2,389.0 340.5,389.0 341.8,389.1 342.5,388.9 343.1,388.5 344.4,388.7 345.7,388.3 346.9,388.2 347.0,388.1 348.3,387.4 349.3,387.4 349.6,387.0 350.9,386.2 351.0,386.1 352.0,384.4 352.2,384.2 352.8,381.6 353.5,376.8 354.0,370.0 355.6,338.9 356.1,332.0 356.2,331.0 356.4,331.0 356.5,331.3 357.2,337.9 357.5,338.8 357.6,338.9 358.1,336.2 358.9,327.0 359.2,325.4 359.6,329.8 360.9,365.0 361.8,379.0 362.4,382.8 362.6,384.0 363.0,385.0 363.9,386.3 364.0,386.5 365.2,387.3 365.6,387.5 366.5,387.7 367.3,388.1 367.8,388.3 369.1,388.3 369.7,388.4 370.4,388.6 371.7,388.9 372.6,388.5 373.0,388.5 374.3,388.0 375.1,388.2 375.6,387.9 376.8,387.8 376.9,387.4 378.1,387.1 378.2,386.8 378.9,386.3 379.5,385.6 379.6,385.1 380.4,381.6 380.8,378.8 381.1,376.1 382.9,346.3 383.2,343.2 383.5,342.1 383.9,345.6 385.2,370.5 386.0,380.5 386.0,381.0 386.5,384.1 387.0,385.8 387.3,386.4 387.8,387.0 388.6,387.9 389.0,387.7 389.9,387.9 390.3,388.0 391.2,387.7 391.4,387.7 392.3,387.0 392.5,386.6 393.7,384.8 393.8,384.8 394.2,384.5 394.7,385.0 395.1,385.8 396.3,387.9 396.4,388.3 396.9,388.5 397.7,389.1 397.7,388.8 399.0,389.3 400.2,389.1 400.3,389.4 401.6,389.3 402.9,388.8 404.2,389.1 404.5,389.1 405.5,389.2 406.8,388.9 407.6,388.9 408.1,389.1 409.3,388.5 409.4,388.4 410.4,387.7 410.7,387.0 411.2,386.2 411.9,383.9 412.0,384.0 413.2,378.2 413.6,377.3 413.9,377.1 414.4,378.2 414.6,379.4 415.5,384.2 415.9,385.7 416.2,386.6 417.0,388.0 417.2,388.5 418.1,388.8 418.5,389.1 419.8,389.2 419.8,389.1 421.1,388.6 422.4,389.1 422.7,389.3 423.7,389.2 425.0,389.1 426.3,389.4 427.6,389.7 428.9,389.3 430.2,389.1 431.5,389.9 432.8,389.3 434.1,389.1 434.7,389.4 435.4,389.4 436.7,389.5 438.0,389.2 439.3,389.5 440.6,389.2 441.9,389.1 443.2,389.3 444.5,389.4 445.1,389.2 445.8,389.0 447.1,389.1 448.4,388.9 449.7,389.4 450.0,388.6 451.0,388.1 451.1,388.3 451.9,387.7 452.3,387.6 452.5,386.8 453.1,385.6 453.6,383.9 454.0,381.8 455.6,372.7 455.9,371.5 456.2,371.2 456.5,371.6 456.8,372.8 458.4,383.7 458.8,385.4 458.9,385.7 459.5,387.2 460.1,388.0 460.4,388.1 461.4,388.7 462.0,388.5 462.7,388.9 464.0,388.7 464.7,388.6 465.3,388.4 466.6,388.1 466.9,388.1 467.9,387.7 468.1,387.3 468.8,385.7 469.2,384.1 470.6,374.6 470.7,374.5 470.9,374.9 471.7,379.1 471.8,379.6 472.0,379.3 472.3,378.6 473.0,373.1 474.2,356.1 474.5,354.0 474.7,353.6 475.2,357.1 476.7,380.3 477.0,382.9 477.3,384.6 478.1,386.9 478.3,387.5 478.7,387.7 479.6,388.2 479.6,388.6 480.9,388.7 482.2,388.6 482.3,389.0 483.5,388.8 484.8,388.8 486.1,389.7 487.0,389.3 487.4,389.1 488.7,389.7 490.0,389.5 491.3,389.8 492.6,389.7 493.9,389.4 495.2,389.4 496.2,389.5" fill="none" stroke="#2443a2" stroke-width="1.7" stroke-linejoin="round" />
<polyline points="19.4,416.5 19.4,416.5 20.7,416.5 22.0,416.3 23.3,416.4 24.6,416.9 25.9,416.0 27.2,416.5 28.5,416.2 29.8,416.5 31.1,416.6 32.4,416.4 33.7,416.6 35.0,416.0 36.3,416.7 37.6,416.3 38.9,416.6 40.2,416.4 41.5,415.7 42.8,416.2 44.1,416.4 44.7,416.4 45.4,416.7 46.7,416.4 48.0,416.4 49.3,415.9 50.6,416.6 51.9,416.7 53.2,416.2 54.5,416.1 54.5,416.1 55.8,415.5 55.8,416.0 56.5,415.6 57.1,415.2 58.2,413.5 58.4,414.2 59.3,415.1 59.7,415.7 59.9,415.6 61.0,416.0 61.0,415.7 62.3,415.7 63.0,415.4 63.6,415.0 64.3,415.0 64.9,415.0 65.3,414.4 66.2,413.6 66.2,413.2 66.9,412.4 67.5,411.4 68.4,409.0 68.8,407.9 69.6,404.4 70.2,400.8 70.5,396.9 70.9,383.3 71.2,343.6 71.9,192.5 71.9,188.5 72.0,187.4 72.0,188.9 72.4,224.4 72.5,227.3 72.6,226.1 73.4,137.4 73.7,168.6 74.5,337.3 75.1,390.6 75.4,401.9 76.0,408.6 76.4,410.6 76.6,411.3 77.0,412.3 77.8,413.5 77.9,413.7 78.8,414.4 79.2,414.7 80.5,415.0 80.5,415.2 81.8,415.2 82.9,415.7 83.1,415.7 84.4,415.6 85.7,415.5 86.5,415.8 87.0,415.5 88.3,415.7 89.6,415.2 89.9,415.7 90.9,415.2 91.7,415.3 92.2,414.7 93.0,414.6 93.5,414.3 93.9,413.7 94.5,412.3 94.8,411.4 95.2,408.5 95.7,401.1 96.9,359.3 97.2,353.5 97.6,360.4 98.4,397.1 99.1,409.7 99.6,412.6 100.0,414.2 100.3,414.3 101.3,414.7 101.6,415.3 102.6,415.5 103.7,415.9 103.9,416.2 105.2,416.0 106.5,416.1 107.1,416.2 107.8,416.7 109.1,416.2 110.4,416.0 111.7,416.0 113.0,416.4 113.1,416.4 114.3,416.4 115.6,416.0 116.9,416.1 118.2,416.5 119.5,416.5 120.8,416.3 122.1,416.6 123.4,416.6 124.7,416.0 126.0,416.3 127.3,416.5 128.6,416.3 129.9,415.9 131.2,416.4 132.5,416.6 133.8,416.8 135.1,415.9 136.4,417.1 137.7,416.2 139.0,416.7 140.3,416.7 141.6,416.7 142.9,416.5 144.2,416.1 145.0,416.4 145.5,416.6 146.8,416.2 148.1,415.8 149.4,417.1 150.7,416.5 152.0,416.8 153.3,416.1 154.6,416.6 155.1,416.2 155.9,416.6 157.2,416.4 157.5,416.0 158.5,415.8 159.0,415.6 159.8,415.0 159.8,415.2 160.4,414.6 161.1,412.5 161.2,412.1 161.8,407.2 162.7,395.6 163.1,393.5 163.4,395.8 164.3,408.8 164.9,413.4 165.0,412.9 165.3,414.5 165.9,415.3 166.3,415.1 166.9,415.8 167.6,416.0 168.3,416.1 168.9,415.9 170.2,416.2 171.5,416.3 172.8,416.8 174.1,416.7 175.4,416.4 175.5,416.4 176.7,416.7 178.0,416.2 179.3,416.3 180.6,416.6 181.9,416.1 183.2,416.3 184.5,416.1 185.8,416.4 187.1,416.8 188.4,416.2 189.7,416.5 191.0,416.2 192.3,416.1 193.6,416.1 194.9,416.7 195.0,416.3 196.2,416.9 197.5,416.4 198.8,416.1 200.1,416.4 201.3,416.1 201.4,416.0 202.7,416.2 204.0,415.8 204.3,415.6 205.3,415.0 205.4,414.8 206.1,413.2 206.6,411.6 208.0,403.6 208.3,403.4 209.0,405.0 209.1,405.1 209.2,405.0 209.3,405.0 210.3,400.5 210.6,400.0 211.0,401.6 211.8,408.8 212.2,412.1 212.7,414.1 213.1,414.3 213.3,415.1 214.0,415.5 214.4,415.5 215.1,415.8 215.7,415.5 217.0,415.9 217.8,415.9 218.3,415.5 218.8,415.4 219.6,414.6 220.2,413.7 220.7,413.5 220.9,413.7 221.1,413.8 222.1,415.3 222.2,415.0 222.8,415.8 223.5,415.7 224.3,415.9 224.8,415.7 226.1,415.9 226.3,415.6 227.2,415.3 227.4,415.6 227.8,414.7 228.6,412.8 228.7,412.7 229.3,409.2 230.4,400.1 230.8,398.5 231.2,400.3 232.2,410.2 232.6,412.4 232.8,413.5 233.2,414.6 233.7,415.2 233.9,415.7 234.5,415.6 235.2,415.5 235.7,415.9 236.5,416.4 237.8,416.0 239.1,415.5 239.9,416.2 240.4,416.9 241.7,416.6 243.0,415.9 244.3,416.2 245.6,416.0 246.0,416.1 246.9,416.0 248.2,415.4 249.0,415.6 249.5,415.3 250.5,414.9 250.8,414.7 251.3,413.7 251.9,411.6 252.1,410.9 253.5,400.6 254.0,399.0 255.4,405.4 255.6,405.7 255.8,405.5 256.0,405.5 256.6,403.7 256.8,403.5 257.0,403.6 258.3,411.3 258.6,412.7 258.9,413.6 259.6,415.0 259.9,415.8 261.0,415.6 261.2,415.5 262.5,415.8 262.6,415.8 263.8,415.2 264.3,415.6 265.1,415.1 265.3,415.3 266.0,414.7 266.4,414.3 266.8,412.6 267.7,408.7 268.2,406.2 268.7,405.0 269.0,405.5 269.2,406.1 270.3,412.2 270.3,412.3 271.0,414.2 271.4,414.4 271.6,414.1 271.8,414.3 272.9,412.8 273.3,412.3 273.8,412.0 274.2,412.3 274.2,412.5 275.5,415.0 275.6,415.2 276.2,415.8 276.8,416.1 277.1,416.0 278.1,416.3 279.4,416.1 280.5,416.2 280.7,416.0 282.0,416.3 283.3,416.2 284.6,416.5 285.5,416.2 285.9,416.8 287.2,416.3 288.2,415.9 288.5,415.8 289.5,415.4 289.8,415.2 290.2,414.7 290.8,413.4 291.1,412.4 292.4,406.7 292.5,406.5 293.0,405.5 293.4,406.4 293.7,407.6 294.4,411.8 295.0,413.9 295.0,414.1 295.7,415.3 296.3,415.6 296.9,415.9 297.6,416.2 298.9,416.0 299.3,416.2 300.2,416.1 301.5,415.9 302.5,416.1 302.8,416.5 303.6,415.9 304.1,415.9 305.4,415.5 305.7,415.0 306.7,415.6 308.0,416.5 308.0,416.1 309.3,416.2 310.6,416.5 310.7,416.3 311.9,417.0 313.2,416.0 314.5,416.6 315.8,416.7 317.1,416.4 318.4,416.4 319.7,416.5 321.0,416.0 322.3,416.3 323.6,415.9 324.9,415.9 326.1,416.1 326.2,415.9 327.5,415.9 328.8,415.9 330.1,415.9 330.5,415.8 331.4,415.3 332.7,416.0 333.5,415.3 334.0,415.5 335.3,414.9 335.8,414.5 336.6,414.0 337.9,413.1 337.9,413.1 338.8,411.5 339.2,410.7 339.5,409.0 340.2,404.4 340.8,397.3 342.8,362.8 343.2,361.2 343.9,361.9 344.8,360.3 345.2,361.5 345.4,364.8 346.8,395.7 347.6,407.0 348.1,410.1 348.3,411.0 348.8,412.3 349.6,413.0 349.8,413.7 350.9,414.6 351.3,414.6 352.2,415.7 352.9,415.1 353.5,414.7 354.8,415.6 354.9,415.3 356.1,415.5 357.4,415.4 357.4,415.3 358.7,415.6 359.6,415.1 360.0,414.8 361.2,414.8 361.3,414.8 362.4,414.2 362.6,414.5 363.3,413.5 363.9,412.7 364.0,412.6 364.9,409.9 365.2,408.3 365.6,405.6 367.4,385.7 367.9,381.7 368.0,381.2 368.2,381.3 369.1,385.3 369.3,385.8 369.5,385.7 370.0,383.8 370.8,377.5 371.1,376.4 371.3,376.9 371.6,379.4 372.8,399.7 373.6,408.1 374.1,410.7 374.3,411.5 374.6,412.5 375.3,413.5 375.6,413.6 376.2,414.1 376.9,414.6 377.2,414.2 378.1,413.6 378.2,413.3 378.8,412.5 379.5,411.1 380.1,409.5 380.7,409.0 380.8,408.7 381.2,409.7 382.1,412.6 382.7,414.1 383.3,414.9 383.4,415.0 384.1,415.4 384.7,415.0 385.9,415.8 386.0,415.8 387.3,415.7 388.6,415.9 389.6,416.0 389.9,416.4 391.2,415.7 392.5,415.6 392.9,415.9 393.8,416.1 394.8,415.5 395.1,415.4 395.9,414.7 396.4,414.4 396.7,413.2 397.7,410.3 398.8,405.7 399.0,405.0 399.1,405.0 399.4,404.8 399.9,405.9 400.3,407.7 401.0,411.3 401.6,413.7 401.7,413.6 402.4,415.0 402.9,415.6 403.6,415.7 404.2,415.9 405.4,416.0 405.5,416.1 406.8,416.1 408.1,416.1 408.6,416.2 409.4,416.7 410.7,416.3 412.0,416.0 413.3,416.2 414.6,416.5 415.9,416.5 417.2,416.3 418.5,416.1 419.8,416.3 421.1,415.9 421.7,416.3 422.4,415.9 423.7,416.5 425.0,416.1 426.3,416.3 427.3,416.1 427.6,416.3 428.9,415.8 430.2,415.1 430.8,415.0 431.5,415.6 432.6,415.4 432.8,415.6 433.5,415.4 434.1,415.1 434.4,415.0 435.4,414.4 436.5,413.5 436.7,413.6 438.0,413.5 438.3,413.6 439.1,412.8 439.3,412.3 440.0,409.9 440.6,407.0 441.8,399.9 442.1,398.6 442.4,398.1 442.7,398.5 443.0,399.8 444.5,409.4 444.6,410.7 445.1,412.6 445.7,414.1 445.8,414.1 446.7,415.0 447.1,415.1 448.2,415.4 448.4,415.3 449.7,415.1 450.7,415.5 451.0,415.4 452.3,415.2 452.8,415.0 453.6,414.6 453.9,414.2 454.5,412.8 454.9,411.3 456.3,403.5 456.4,403.4 456.6,403.7 457.4,406.6 457.5,406.8 457.7,406.6 457.9,405.7 458.7,399.4 459.9,381.4 460.2,379.2 460.4,378.7 460.9,382.5 462.4,406.8 462.7,409.1 463.0,411.3 463.8,413.7 464.0,414.0 464.4,414.5 465.2,415.1 465.3,415.5 466.6,415.4 467.9,415.7 467.9,415.9 469.2,416.3 470.5,416.0 471.8,416.1 472.6,416.2 473.1,416.3 474.4,416.6 475.7,415.8 477.0,416.1 478.3,416.1 479.6,416.1 480.9,416.2 481.9,416.4" fill="none" stroke="#e3141c" stroke-width="1.7" stroke-linejoin="round" />
<path d="M4.8,448 L4.8,162.5 L90.9,1.3 L561,1.3" fill="none" stroke="#111" stroke-width="1.8" stroke-linejoin="miter"/>
<line x1="4.00" y1="441.90" x2="469.30" y2="441.90" stroke="#111" stroke-width="1.8" />
<line x1="4.80" y1="441.90" x2="4.80" y2="447.60" stroke="#111" stroke-width="1.6" />
<line x1="97.40" y1="441.90" x2="97.40" y2="447.60" stroke="#111" stroke-width="1.6" />
<line x1="190.00" y1="441.90" x2="190.00" y2="447.60" stroke="#111" stroke-width="1.6" />
<line x1="282.60" y1="441.90" x2="282.60" y2="447.60" stroke="#111" stroke-width="1.6" />
<line x1="375.20" y1="441.90" x2="375.20" y2="447.60" stroke="#111" stroke-width="1.6" />
<line x1="467.80" y1="441.90" x2="467.80" y2="447.60" stroke="#111" stroke-width="1.6" />
<line x1="51.10" y1="441.90" x2="51.10" y2="445.20" stroke="#111" stroke-width="1.4" />
<line x1="143.70" y1="441.90" x2="143.70" y2="445.20" stroke="#111" stroke-width="1.4" />
<line x1="236.30" y1="441.90" x2="236.30" y2="445.20" stroke="#111" stroke-width="1.4" />
<line x1="328.90" y1="441.90" x2="328.90" y2="445.20" stroke="#111" stroke-width="1.4" />
<line x1="421.50" y1="441.90" x2="421.50" y2="445.20" stroke="#111" stroke-width="1.4" />
<line x1="554.20" y1="283.20" x2="554.20" y2="1.30" stroke="#111" stroke-width="1.6" />
<line x1="554.20" y1="282.70" x2="561.00" y2="282.70" stroke="#111" stroke-width="1.5" />
<line x1="554.20" y1="226.44" x2="561.00" y2="226.44" stroke="#111" stroke-width="1.5" />
<line x1="554.20" y1="170.18" x2="561.00" y2="170.18" stroke="#111" stroke-width="1.5" />
<line x1="554.20" y1="113.92" x2="561.00" y2="113.92" stroke="#111" stroke-width="1.5" />
<line x1="554.20" y1="57.66" x2="561.00" y2="57.66" stroke="#111" stroke-width="1.5" />
<line x1="554.20" y1="1.40" x2="561.00" y2="1.40" stroke="#111" stroke-width="1.5" />
<line x1="554.20" y1="254.57" x2="558.00" y2="254.57" stroke="#111" stroke-width="1.4" />
<line x1="554.20" y1="198.31" x2="558.00" y2="198.31" stroke="#111" stroke-width="1.4" />
<line x1="554.20" y1="142.05" x2="558.00" y2="142.05" stroke="#111" stroke-width="1.4" />
<line x1="554.20" y1="85.79" x2="558.00" y2="85.79" stroke="#111" stroke-width="1.4" />
<line x1="554.20" y1="29.53" x2="558.00" y2="29.53" stroke="#111" stroke-width="1.4" />
<line x1="468.60" y1="441.90" x2="554.20" y2="282.70" stroke="#111" stroke-width="1.8" />
<line x1="481.37" y1="417.10" x2="487.87" y2="417.10" stroke="#111" stroke-width="1.5" />
<line x1="495.68" y1="390.15" x2="502.18" y2="390.15" stroke="#111" stroke-width="1.5" />
<line x1="509.99" y1="363.20" x2="516.49" y2="363.20" stroke="#111" stroke-width="1.5" />
<line x1="524.30" y1="336.25" x2="530.80" y2="336.25" stroke="#111" stroke-width="1.5" />
<line x1="538.61" y1="309.30" x2="545.11" y2="309.30" stroke="#111" stroke-width="1.5" />
<line x1="474.21" y1="430.57" x2="478.01" y2="430.57" stroke="#111" stroke-width="1.4" />
<line x1="488.52" y1="403.62" x2="492.32" y2="403.62" stroke="#111" stroke-width="1.4" />
<line x1="502.83" y1="376.67" x2="506.63" y2="376.67" stroke="#111" stroke-width="1.4" />
<line x1="517.14" y1="349.72" x2="520.94" y2="349.72" stroke="#111" stroke-width="1.4" />
<line x1="531.46" y1="322.77" x2="535.26" y2="322.77" stroke="#111" stroke-width="1.4" />
<text x="2.00" y="13.60" font-size="14" font-weight="normal" text-anchor="start" fill="#000"  >(a)</text>
<text x="4.80" y="463.80" font-size="14.5" font-weight="bold" text-anchor="middle" fill="#000"  >5</text>
<text x="97.40" y="463.80" font-size="14.5" font-weight="bold" text-anchor="middle" fill="#000"  >10</text>
<text x="190.00" y="463.80" font-size="14.5" font-weight="bold" text-anchor="middle" fill="#000"  >15</text>
<text x="282.60" y="463.80" font-size="14.5" font-weight="bold" text-anchor="middle" fill="#000"  >20</text>
<text x="375.20" y="463.80" font-size="14.5" font-weight="bold" text-anchor="middle" fill="#000"  >25</text>
<text x="467.80" y="463.80" font-size="14.5" font-weight="bold" text-anchor="middle" fill="#000"  >30</text>
<text x="249.0" y="484.6" font-size="15" font-style="italic"><tspan font-weight="bold">2</tspan><tspan dx="0.3" font-size="16.5">θ</tspan><tspan dx="2.4" font-size="15.5">/</tspan><tspan dx="3.4" dy="0.6" font-size="15" font-style="normal">°</tspan></text>
<line x1="294.50" y1="479.70" x2="318.00" y2="479.70" stroke="#111" stroke-width="1.5" />
<path d="M325,479.7 L315,475.8 L317.5,479.7 L315,483.6 Z" fill="#111"/>
<text x="495.0" y="419.2" font-size="16.5" font-weight="bold" fill="#e3141c">N<tspan font-size="10.5" dy="6.6" dx="0.3">2</tspan></text>
<text x="508.0" y="392.2" font-size="16.5" font-weight="bold" fill="#2443a2">CO<tspan font-size="10.5" dy="6.6" dx="0.3">2</tspan></text>
<text x="526.4" y="365.6" font-size="16.5" font-weight="bold" fill="#e3141c">N<tspan font-size="10.5" dy="6.6" dx="0.3">2</tspan></text>
<text x="537.0" y="342.4" font-size="16.5" font-weight="bold" fill="#2443a2">CO<tspan font-size="10.5" dy="6.6" dx="0.3">2</tspan></text>
<text x="555.0" y="312.2" font-size="16.5" font-weight="bold" fill="#e3141c">N<tspan font-size="10.5" dy="6.6" dx="0.3">2</tspan></text>
<text transform="translate(557.5,402.5) rotate(-60.3)" font-size="14.5" font-weight="bold">Atmosphere</text>
<text transform="translate(584.2,203.3) rotate(-90)" font-size="14.8" font-weight="bold"><tspan font-style="italic">I</tspan><tspan font-weight="normal" font-style="italic"> / </tspan>Arb. Units</text>
<line x1="579.40" y1="108.00" x2="579.40" y2="88.00" stroke="#111" stroke-width="1.5" />
<path d="M579.4,81.2 L575.6,90.5 L579.4,88.3 L583.2,90.5 Z" fill="#111"/>
<rect x="249.0" y="5.5" width="300.5" height="246.0" fill="#fff"/>
<rect x="256.9" y="8.1" width="289.1" height="239.5" fill="#fff" stroke="#111" stroke-width="1.9"/>
<line x1="263.75" y1="9.60" x2="263.75" y2="226.20" stroke="#111" stroke-width="1.4" />
<line x1="263.00" y1="225.50" x2="532.30" y2="225.50" stroke="#111" stroke-width="1.4" />
<line x1="259.15" y1="225.50" x2="263.75" y2="225.50" stroke="#111" stroke-width="1.2" />
<line x1="261.15" y1="204.00" x2="263.75" y2="204.00" stroke="#111" stroke-width="1.2" />
<line x1="259.15" y1="182.50" x2="263.75" y2="182.50" stroke="#111" stroke-width="1.2" />
<line x1="261.15" y1="161.00" x2="263.75" y2="161.00" stroke="#111" stroke-width="1.2" />
<line x1="259.15" y1="139.50" x2="263.75" y2="139.50" stroke="#111" stroke-width="1.2" />
<line x1="261.15" y1="118.00" x2="263.75" y2="118.00" stroke="#111" stroke-width="1.2" />
<line x1="259.15" y1="96.50" x2="263.75" y2="96.50" stroke="#111" stroke-width="1.2" />
<line x1="261.15" y1="75.00" x2="263.75" y2="75.00" stroke="#111" stroke-width="1.2" />
<line x1="259.15" y1="53.50" x2="263.75" y2="53.50" stroke="#111" stroke-width="1.2" />
<line x1="261.15" y1="32.00" x2="263.75" y2="32.00" stroke="#111" stroke-width="1.2" />
<line x1="259.15" y1="10.50" x2="263.75" y2="10.50" stroke="#111" stroke-width="1.2" />
<line x1="263.75" y1="225.50" x2="263.75" y2="229.10" stroke="#111" stroke-width="1.2" />
<line x1="286.10" y1="225.50" x2="286.10" y2="227.70" stroke="#111" stroke-width="1.2" />
<line x1="308.45" y1="225.50" x2="308.45" y2="229.10" stroke="#111" stroke-width="1.2" />
<line x1="330.80" y1="225.50" x2="330.80" y2="227.70" stroke="#111" stroke-width="1.2" />
<line x1="353.15" y1="225.50" x2="353.15" y2="229.10" stroke="#111" stroke-width="1.2" />
<line x1="375.50" y1="225.50" x2="375.50" y2="227.70" stroke="#111" stroke-width="1.2" />
<line x1="397.85" y1="225.50" x2="397.85" y2="229.10" stroke="#111" stroke-width="1.2" />
<line x1="420.20" y1="225.50" x2="420.20" y2="227.70" stroke="#111" stroke-width="1.2" />
<line x1="442.55" y1="225.50" x2="442.55" y2="229.10" stroke="#111" stroke-width="1.2" />
<line x1="464.90" y1="225.50" x2="464.90" y2="227.70" stroke="#111" stroke-width="1.2" />
<line x1="487.25" y1="225.50" x2="487.25" y2="229.10" stroke="#111" stroke-width="1.2" />
<line x1="509.60" y1="225.50" x2="509.60" y2="227.70" stroke="#111" stroke-width="1.2" />
<line x1="531.95" y1="225.50" x2="531.95" y2="229.10" stroke="#111" stroke-width="1.2" />
<text x="263.75" y="240.70" font-size="10.2" font-weight="normal" text-anchor="middle" fill="#000"  >7.0</text>
<text x="308.45" y="240.70" font-size="10.2" font-weight="normal" text-anchor="middle" fill="#000"  >7.5</text>
<text x="353.15" y="240.70" font-size="10.2" font-weight="normal" text-anchor="middle" fill="#000"  >8.0</text>
<text x="397.85" y="240.70" font-size="10.2" font-weight="normal" text-anchor="middle" fill="#000"  >8.5</text>
<text x="442.55" y="240.70" font-size="10.2" font-weight="normal" text-anchor="middle" fill="#000"  >9.0</text>
<text x="487.25" y="240.70" font-size="10.2" font-weight="normal" text-anchor="middle" fill="#000"  >9.5</text>
<text x="531.95" y="240.70" font-size="10.2" font-weight="normal" text-anchor="middle" fill="#000"  >10.0</text>
<polyline points="263.8,223.7 263.8,223.4 265.4,223.7 267.0,223.2 267.9,223.4 268.6,223.4 270.2,223.2 271.8,222.6 273.4,222.7 275.0,223.0 275.4,222.5 276.6,222.6 278.2,222.5 279.8,222.8 281.4,222.8 283.0,223.3 284.6,223.5 285.2,223.3 286.2,223.0 287.8,223.2 289.4,223.6 291.0,223.1 292.6,223.2 294.2,222.8 295.8,222.8 297.0,223.0 297.4,222.8 299.0,223.5 300.6,222.6 302.2,222.4 303.8,222.2 304.9,222.3 305.4,222.1 307.0,222.1 308.6,221.6 310.1,221.1 310.2,221.7 311.8,220.5 312.6,220.1 313.4,220.1 314.7,218.9 315.0,218.8 316.7,217.3 318.6,215.4 320.6,212.9 322.4,210.2 324.4,206.7 326.2,203.0 328.5,197.2 329.9,192.3 331.2,185.6 332.1,178.0 333.5,158.3 336.2,100.0 336.7,90.8 337.2,85.3 337.6,84.2 337.8,84.4 338.1,86.1 339.7,104.0 340.3,108.3 340.6,109.4 340.8,109.3 341.3,106.3 342.2,92.2 343.9,53.3 344.4,45.6 344.6,44.6 344.7,44.5 345.1,47.2 345.6,58.9 348.1,155.3 349.6,190.6 350.5,202.3 351.5,209.8 352.3,212.6 353.1,214.8 354.2,216.6 355.5,218.0 356.6,219.1 356.9,219.1 358.2,219.5 358.7,220.2 359.8,220.6 360.8,221.0 361.4,221.2 363.0,221.6 363.3,221.7 364.6,221.3 366.2,222.5 367.8,222.3 369.4,222.5 369.8,222.7 371.0,222.7 372.6,222.9 374.2,223.2 375.8,222.8 377.4,222.9 379.0,223.4 379.3,223.3 380.6,223.4 382.2,223.3 383.8,223.3 385.4,223.2 387.0,223.5 388.6,223.9 390.2,223.3 391.8,224.1 393.4,223.9 395.0,223.5 396.6,223.9 398.2,223.2 399.8,223.2 401.4,223.3 401.6,223.7 403.0,223.6 404.6,223.6 406.2,223.6 407.8,223.8 409.4,223.1 411.0,223.9 412.6,223.3 414.2,223.5 415.8,223.6 417.4,223.4 419.0,223.3 420.6,223.4 422.2,223.6 423.8,223.8 425.4,223.8 427.0,223.3 427.5,223.6 428.6,223.3 430.2,223.2 431.8,223.6 433.4,222.8 435.0,223.7 436.6,223.1 438.2,222.9 439.8,223.1 440.4,222.9 441.4,223.2 443.0,222.8 444.6,222.8 444.7,222.4 446.2,222.2 447.7,221.7 447.8,222.1 449.4,221.5 450.1,220.8 451.0,220.2 451.8,219.5 452.6,219.2 453.5,217.5 454.9,214.9 456.1,211.6 457.4,207.4 461.7,189.4 462.6,186.9 463.1,186.1 463.5,185.9 463.8,186.1 464.2,186.7 464.9,189.3 467.9,207.0 469.7,214.5 470.6,217.0 471.7,219.0 471.8,219.1 472.8,220.3 473.4,220.8 474.2,221.4 475.0,221.5 476.2,222.2 476.6,222.2 478.2,222.9 479.0,222.8 479.8,222.5 481.4,223.3 483.0,223.4 484.6,223.5 486.2,222.8 487.6,223.6 487.8,223.5 489.4,223.8 491.0,223.5 492.6,223.8 494.2,223.1 495.8,224.0 497.4,223.7 499.0,224.1 500.6,223.4 502.2,224.1 502.6,223.9 503.8,223.9 505.4,224.2 507.0,223.7 508.6,223.8 510.2,224.7 511.8,223.8 513.4,223.8 515.0,223.9 516.6,223.7 518.2,224.4 519.8,224.6 521.4,223.9 523.0,223.6 524.6,224.4 526.2,224.4 527.8,224.3 529.4,224.4 531.0,223.8 531.9,224.1" fill="none" stroke="#1a1a1a" stroke-width="1.3" stroke-linejoin="round" />
<polyline points="263.8,223.8 263.8,223.7 265.4,223.3 267.0,223.2 267.9,223.5 268.6,223.7 270.2,223.0 271.8,223.7 273.4,222.8 275.0,222.4 275.4,222.6 276.6,222.9 278.2,223.3 279.8,223.1 281.4,222.8 283.0,223.4 284.6,223.8 285.2,223.5 286.2,223.3 287.8,223.2 289.4,223.8 291.0,223.5 292.6,223.1 294.2,223.3 295.8,223.1 297.4,223.3 297.5,223.2 299.0,223.2 300.6,223.4 302.2,223.2 303.8,222.4 305.4,222.9 305.8,222.7 307.0,222.8 308.6,222.5 310.2,222.3 311.0,221.8 311.8,221.5 313.1,221.2 313.4,220.8 315.0,220.6 315.1,220.3 316.6,219.1 316.9,219.2 318.6,217.7 320.4,215.8 322.0,213.7 325.4,208.1 328.3,202.5 330.1,198.3 331.3,194.0 332.2,189.0 333.1,181.0 334.0,168.9 336.7,115.7 337.4,105.5 337.8,103.0 338.0,102.5 338.1,102.5 338.3,102.8 338.8,106.0 340.3,117.8 340.8,119.2 341.2,118.5 341.7,115.1 342.2,109.0 344.2,78.9 344.7,74.7 344.9,74.2 345.1,74.1 345.5,76.4 346.0,87.5 348.1,164.9 348.9,184.5 349.6,198.2 350.5,208.4 351.4,213.6 351.9,215.5 352.6,217.1 353.5,218.4 354.8,219.6 355.0,219.1 356.2,220.6 356.6,221.1 358.0,221.4 358.2,221.2 359.8,221.8 361.4,221.9 362.4,222.5 363.0,222.2 364.6,222.4 366.2,222.8 367.8,223.2 368.9,223.2 369.4,222.5 371.0,223.5 372.6,223.0 374.2,223.1 375.8,223.7 377.4,223.6 378.4,223.6 379.0,223.2 380.6,224.2 382.2,223.4 383.8,223.8 385.4,223.8 387.0,224.2 388.6,223.6 390.2,224.1 391.8,223.6 393.4,224.2 395.0,223.6 396.6,223.7 398.2,224.4 399.8,223.9 401.4,223.9 402.5,223.9 403.0,224.5 404.6,224.0 406.2,223.6 407.8,224.1 409.4,223.5 411.0,224.2 412.6,224.2 414.2,223.7 415.8,223.6 417.4,223.9 419.0,223.8 420.6,223.5 422.2,223.9 423.8,223.1 425.4,223.6 427.0,223.6 428.1,223.7 428.6,223.6 430.2,223.7 431.8,223.2 433.4,223.7 435.0,223.4 436.6,223.2 438.2,222.9 439.8,222.8 440.4,223.1 441.4,223.2 443.0,222.6 444.5,222.7 444.6,222.7 446.2,222.7 447.6,222.1 447.8,222.3 449.4,222.0 449.9,221.3 451.0,220.5 451.7,220.1 452.6,218.9 453.3,218.4 454.7,216.0 456.0,213.2 457.2,209.5 461.5,194.1 462.4,192.1 462.9,191.5 463.3,191.4 463.6,191.6 464.0,192.2 464.7,194.6 467.6,209.0 469.4,215.6 470.3,217.8 471.3,219.6 471.8,220.4 472.6,220.9 473.4,221.6 474.0,221.8 475.0,222.5 476.0,222.5 476.6,222.6 478.2,223.3 478.8,223.0 479.8,223.4 481.4,223.5 483.0,223.6 484.6,223.7 486.2,223.7 487.4,223.7 487.8,223.8 489.4,224.0 491.0,223.6 492.6,224.4 494.2,223.8 495.8,224.2 497.4,223.9 499.0,223.9 500.6,224.6 502.2,223.9 502.4,224.0 503.8,223.6 505.4,223.8 507.0,223.9 508.6,224.7 510.2,224.1 511.8,224.3 513.4,223.8 515.0,224.2 516.6,224.3 518.2,224.6 519.8,223.9 521.4,224.3 523.0,224.2 524.6,223.8 526.2,224.1 527.8,224.0 529.4,223.4 531.0,224.3 531.9,224.1" fill="none" stroke="#e8202a" stroke-width="1.3" stroke-linejoin="round" />
<polyline points="263.8,223.9 263.8,224.1 265.4,223.7 267.0,223.4 268.0,223.7 268.6,224.1 270.2,223.5 271.8,223.5 273.4,223.4 275.0,222.7 275.2,222.8 276.6,223.1 278.2,223.0 279.8,223.2 281.4,223.4 283.0,223.6 283.2,223.6 284.6,224.1 286.2,223.8 287.8,223.8 288.2,223.8 289.4,223.7 291.0,223.9 292.6,223.5 294.2,223.6 295.8,223.8 297.4,223.6 299.0,223.7 300.6,223.5 302.2,224.3 302.9,223.6 303.8,224.0 305.4,223.7 307.0,223.5 308.6,224.1 310.2,223.5 311.8,223.2 313.4,223.2 313.5,223.1 315.0,223.1 316.6,223.3 317.7,222.7 318.2,222.6 319.8,222.8 320.4,222.0 321.4,221.3 322.4,220.9 323.0,220.7 324.2,219.1 325.3,217.5 326.5,215.0 330.1,206.4 332.8,201.0 333.7,198.1 334.4,193.6 335.1,186.6 337.4,152.4 338.3,142.5 339.0,139.3 339.4,139.1 340.5,140.2 340.8,140.3 341.2,139.8 341.5,138.8 342.4,133.7 344.2,119.3 344.7,116.6 345.3,115.7 345.6,116.5 345.8,117.8 346.4,124.8 348.9,182.2 350.3,204.9 351.2,212.7 352.1,217.0 353.1,219.6 353.4,219.5 353.9,220.5 354.9,221.3 355.0,221.8 356.6,221.9 357.8,222.4 358.2,222.4 359.8,223.0 361.4,223.4 361.9,223.1 363.0,222.9 364.6,223.2 366.2,223.0 367.8,223.6 367.8,223.5 369.4,223.6 371.0,223.6 372.6,223.5 374.2,223.6 375.8,223.6 376.6,223.8 377.4,224.0 379.0,224.3 380.6,223.3 382.2,223.9 383.8,223.8 385.4,224.1 387.0,223.7 388.6,223.9 390.2,223.7 391.8,224.2 393.4,224.0 395.0,223.9 396.6,224.1 398.2,223.9 398.9,224.0 399.8,223.5 401.4,224.2 403.0,224.1 404.6,224.0 406.2,224.3 407.8,224.4 409.4,223.7 411.0,223.8 412.6,224.4 414.2,224.4 415.8,223.7 417.4,223.6 419.0,223.8 420.6,223.8 422.2,223.5 423.8,223.9 424.8,223.9 425.4,223.5 427.0,223.5 428.6,224.1 430.2,223.6 431.8,223.8 433.4,223.9 435.0,223.9 436.6,223.5 437.4,223.6 438.2,223.6 439.8,223.2 441.4,223.9 443.0,223.4 444.6,222.7 444.7,223.0 446.2,222.7 447.0,222.5 447.8,222.5 448.8,221.8 449.4,221.7 450.4,220.9 451.0,221.0 451.8,219.5 452.6,219.1 453.1,217.9 454.4,215.8 458.6,206.9 459.5,205.8 460.4,205.4 461.1,205.9 461.9,207.2 464.7,215.5 466.5,219.3 467.0,219.8 467.4,220.5 468.5,221.6 468.6,221.6 469.7,222.3 470.2,222.1 471.2,222.8 471.8,223.1 473.4,223.3 475.0,224.3 476.0,223.5 476.6,223.6 478.2,223.0 479.8,223.5 481.4,223.8 483.0,223.5 484.6,223.6 484.9,223.9 486.2,223.8 487.8,224.1 489.4,223.9 491.0,223.7 492.6,224.3 494.2,223.9 495.8,223.9 497.4,223.6 499.0,223.8 500.6,224.3 502.2,223.6 503.8,224.1 505.4,224.3 507.0,224.0 508.6,224.2 510.2,223.8 511.8,224.5 513.4,224.5 515.0,224.2 516.6,223.6 518.2,223.8 519.8,224.4 521.4,224.7 523.0,224.2 524.6,224.5 526.2,224.0 527.8,224.1 529.4,224.2 531.0,224.3 531.9,224.2" fill="none" stroke="#2e46ad" stroke-width="1.3" stroke-linejoin="round" />
<text x="326.60" y="27.90" font-size="15.8" font-weight="normal" text-anchor="start" fill="#000"  >002</text>
<text x="304.60" y="73.70" font-size="15.6" font-weight="normal" text-anchor="start" fill="#000"  >10-1</text>
<text x="447.50" y="171.20" font-size="15.8" font-weight="normal" text-anchor="start" fill="#000"  >101</text>
<rect x="456.3" y="27.0" width="76.9" height="48.5" fill="#fff" stroke="#8a8a8a" stroke-width="0.9"/>
<line x1="460.50" y1="35.00" x2="486.00" y2="35.00" stroke="#222" stroke-width="1.3" />
<line x1="460.50" y1="48.80" x2="486.00" y2="48.80" stroke="#e8202a" stroke-width="1.3" />
<line x1="460.50" y1="65.80" x2="486.00" y2="65.80" stroke="#2e46ad" stroke-width="1.3" />
<text x="489.00" y="39.30" font-size="11.6" font-weight="normal" text-anchor="start" fill="#000"  >Vacuum</text>
<text x="489.0" y="52.8" font-size="11.2">N<tspan font-size="7.6" dy="4.2">2</tspan></text>
<text x="489.0" y="70.3" font-size="11.2">CO<tspan font-size="7.6" dy="3.8">2</tspan></text>
<rect x="74.0" y="843.9" width="47.6" height="28.1" fill="#ffffff"/>
<rect x="121.6" y="843.9" width="47.6" height="28.1" fill="#c0c0c0"/>
<rect x="169.2" y="843.9" width="47.1" height="28.1" fill="#ffffff"/>
<rect x="216.3" y="843.9" width="47.2" height="28.1" fill="#c0c0c0"/>
<rect x="263.5" y="843.9" width="47.1" height="28.1" fill="#ffffff"/>
<rect x="310.6" y="843.9" width="47.7" height="28.1" fill="#c0c0c0"/>
<rect x="358.3" y="843.9" width="47.6" height="28.1" fill="#ffffff"/>
<rect x="405.9" y="843.9" width="47.1" height="28.1" fill="#c0c0c0"/>
<rect x="453.0" y="843.9" width="46.7" height="28.1" fill="#ffffff"/>
<rect x="499.7" y="843.9" width="46.7" height="28.1" fill="#c0c0c0"/>
<rect x="546.4" y="843.9" width="31.0" height="28.1" fill="#ffffff"/>
<text transform="translate(98.2,861.8) scale(0.88,1)" text-anchor="middle" font-size="14" fill="#111">N<tspan font-size="9.6" dy="2.6">2</tspan></text>
<text transform="translate(145.8,861.8) scale(0.88,1)" text-anchor="middle" font-size="14" fill="#111">CO<tspan font-size="9.6" dy="2.6">2</tspan></text>
<text transform="translate(193.2,861.8) scale(0.88,1)" text-anchor="middle" font-size="14" fill="#111">N<tspan font-size="9.6" dy="2.6">2</tspan></text>
<text transform="translate(240.3,861.8) scale(0.88,1)" text-anchor="middle" font-size="14" fill="#111">CO<tspan font-size="9.6" dy="2.6">2</tspan></text>
<text transform="translate(287.4,861.8) scale(0.88,1)" text-anchor="middle" font-size="14" fill="#111">N<tspan font-size="9.6" dy="2.6">2</tspan></text>
<text transform="translate(334.9,861.8) scale(0.88,1)" text-anchor="middle" font-size="14" fill="#111">CO<tspan font-size="9.6" dy="2.6">2</tspan></text>
<text transform="translate(382.5,861.8) scale(0.88,1)" text-anchor="middle" font-size="14" fill="#111">N<tspan font-size="9.6" dy="2.6">2</tspan></text>
<text transform="translate(429.8,861.8) scale(0.88,1)" text-anchor="middle" font-size="14" fill="#111">CO<tspan font-size="9.6" dy="2.6">2</tspan></text>
<text transform="translate(476.8,861.8) scale(0.88,1)" text-anchor="middle" font-size="14" fill="#111">N<tspan font-size="9.6" dy="2.6">2</tspan></text>
<text transform="translate(523.4,861.8) scale(0.88,1)" text-anchor="middle" font-size="14" fill="#111">CO<tspan font-size="9.6" dy="2.6">2</tspan></text>
<text transform="translate(562.3,861.8) scale(0.88,1)" text-anchor="middle" font-size="14" fill="#111">N<tspan font-size="9.6" dy="2.6">2</tspan></text>
<path d="M74.2,843.9 L577.4,843.9 L577.4,872" fill="none" stroke="#1a1a1a" stroke-width="1.8"/>
<line x1="121.20" y1="843.90" x2="121.20" y2="872.00" stroke="#1a1a1a" stroke-width="1.6" />
<line x1="168.80" y1="843.90" x2="168.80" y2="872.00" stroke="#1a1a1a" stroke-width="1.6" />
<line x1="215.90" y1="843.90" x2="215.90" y2="872.00" stroke="#1a1a1a" stroke-width="1.6" />
<line x1="263.10" y1="843.90" x2="263.10" y2="872.00" stroke="#1a1a1a" stroke-width="1.6" />
<line x1="310.20" y1="843.90" x2="310.20" y2="872.00" stroke="#1a1a1a" stroke-width="1.6" />
<line x1="357.90" y1="843.90" x2="357.90" y2="872.00" stroke="#1a1a1a" stroke-width="1.6" />
<line x1="405.50" y1="843.90" x2="405.50" y2="872.00" stroke="#1a1a1a" stroke-width="1.6" />
<line x1="452.60" y1="843.90" x2="452.60" y2="872.00" stroke="#1a1a1a" stroke-width="1.6" />
<line x1="499.30" y1="843.90" x2="499.30" y2="872.00" stroke="#1a1a1a" stroke-width="1.6" />
<line x1="546.00" y1="843.90" x2="546.00" y2="872.00" stroke="#1a1a1a" stroke-width="1.6" />
<line x1="74.60" y1="843.90" x2="74.60" y2="872.00" stroke="#1a1a1a" stroke-width="1.4" />
<polyline points="73.5,774.2 74.5,775.1 75.5,775.3 76.5,774.3 77.5,774.2 78.5,774.8 79.5,774.4 80.5,773.7 81.5,775.0 82.5,774.7 83.5,774.4 84.5,775.4 85.5,774.6 86.5,774.2 87.5,774.6 88.5,774.1 89.5,774.2 90.5,774.6 91.5,774.2 92.5,774.3 93.5,775.1 94.5,774.7 95.5,774.7 96.5,774.6 97.5,774.5 98.5,774.9 99.5,774.3 100.5,775.0 101.5,773.9 102.5,774.1 103.5,773.6 104.5,774.0 105.5,774.3 106.5,774.6 107.5,773.7 108.5,774.0 109.5,773.8 110.5,773.6 111.5,773.4 112.5,773.8 113.5,773.1 114.5,773.8 115.5,773.7 116.5,773.4 117.5,773.2 120.1,773.6 120.6,774.1 121.2,588.6 121.3,580.6 121.5,588.6 122.0,706.7 122.9,732.7 124.1,757.0 125.2,772.5 126.3,776.0 127.7,776.3 128.8,774.5 129.5,774.9 130.5,774.6 131.5,775.2 132.5,774.2 133.5,774.6 134.5,773.9 135.5,775.2 136.5,774.1 137.5,773.5 138.5,774.3 139.5,774.3 140.5,775.1 141.5,774.2 142.5,774.4 143.5,774.6 144.5,775.0 145.5,774.3 146.5,774.8 147.5,774.5 148.5,774.2 149.5,774.4 150.5,774.3 151.5,773.9 152.5,774.8 153.5,773.7 154.5,774.8 155.5,774.7 156.5,774.2 157.5,774.0 158.5,774.2 159.5,774.4 160.5,774.5 161.5,774.4 162.5,774.6 163.5,774.0 164.5,774.3 166.7,774.2 167.6,775.2 167.9,786.2 168.2,833.7 168.7,833.7 169.9,806.7 171.8,787.5 172.9,778.8 174.7,772.6 177.2,773.0 182.2,773.4 182.5,773.0 183.5,774.0 184.5,773.0 185.5,773.5 186.5,773.8 187.5,773.7 188.5,773.0 189.5,773.1 190.5,773.2 191.5,773.3 192.5,773.8 193.5,772.8 194.5,773.5 195.5,773.6 196.5,773.5 197.5,773.5 198.5,773.9 199.5,773.5 200.5,773.6 201.5,773.5 202.5,774.0 203.5,772.5 204.5,773.8 205.5,773.2 206.5,773.1 207.5,772.9 208.5,772.5 209.5,773.1 210.5,773.0 211.5,773.4 213.8,773.2 214.3,773.7 214.9,560.4 215.1,552.4 215.2,560.4 215.7,707.3 216.6,732.9 217.8,757.0 218.9,772.2 220.0,775.7 221.4,776.0 222.5,774.2 223.5,774.1 224.5,773.8 225.5,774.3 226.5,774.9 227.5,774.5 228.5,774.1 229.5,773.6 230.5,773.6 231.5,773.5 232.5,774.5 233.5,773.9 234.5,774.2 235.5,774.0 236.5,774.2 237.5,774.8 238.5,773.9 239.5,774.1 240.5,773.9 241.5,774.5 242.5,773.8 243.5,773.7 244.5,773.6 245.5,773.6 246.5,774.4 247.5,775.2 248.5,773.8 249.5,774.6 250.5,774.3 251.5,773.8 252.5,774.1 253.5,774.1 254.5,773.9 255.5,775.0 256.5,773.4 257.5,774.4 258.5,774.3 260.8,774.2 261.7,775.2 262.0,786.2 262.3,836.3 262.8,836.3 264.0,809.3 265.9,790.1 267.0,781.4 268.8,772.6 271.3,773.0 276.3,773.4 276.5,773.4 277.5,772.6 278.5,773.3 279.5,773.4 280.5,773.1 281.5,773.1 282.5,774.1 283.5,772.9 284.5,772.9 285.5,773.0 286.5,773.8 287.5,774.2 288.5,773.5 289.5,773.0 290.5,773.1 291.5,773.7 292.5,772.9 293.5,773.9 294.5,773.9 295.5,773.3 296.5,773.5 297.5,773.6 298.5,773.9 299.5,772.8 300.5,773.7 301.5,773.1 302.5,772.9 303.5,773.3 304.5,773.1 305.5,772.8 308.2,773.2 308.7,773.7 309.3,536.6 309.4,528.6 309.6,536.6 310.1,710.2 311.0,734.6 312.2,757.7 313.3,772.2 314.4,775.7 315.8,776.0 316.9,774.2 317.5,774.3 318.5,774.1 319.5,773.8 320.5,774.4 321.5,774.1 322.5,774.6 323.5,774.2 324.5,774.1 325.5,774.3 326.5,774.2 327.5,774.0 328.5,774.1 329.5,774.5 330.5,774.5 331.5,774.8 332.5,773.6 333.5,774.1 334.5,774.1 335.5,774.3 336.5,774.1 337.5,774.1 338.5,774.6 339.5,774.3 340.5,773.8 341.5,774.8 342.5,774.7 343.5,774.0 344.5,774.6 345.5,774.0 346.5,774.7 347.5,774.2 348.5,774.0 349.5,774.1 350.5,774.0 351.5,774.4 352.5,774.4 353.5,774.3 355.3,774.3 356.2,775.3 356.5,786.3 356.8,834.6 357.3,834.6 358.5,807.6 360.4,788.4 361.5,779.7 363.3,772.6 365.8,773.0 370.8,773.4 371.5,773.4 372.5,773.3 373.5,773.6 374.5,773.7 375.5,773.5 376.5,773.1 377.5,773.1 378.5,774.0 379.5,773.2 380.5,773.2 381.5,773.9 382.5,773.8 383.5,773.5 384.5,773.2 385.5,774.3 386.5,773.5 387.5,773.5 388.5,773.2 389.5,772.7 390.5,772.8 391.5,773.4 392.5,773.4 393.5,773.2 394.5,772.8 395.5,772.7 396.5,773.1 397.5,772.7 398.5,773.6 399.5,773.7 400.5,774.4 402.6,773.2 403.1,773.7 403.7,536.0 403.9,528.0 404.0,536.0 404.5,711.3 405.4,735.3 406.6,758.0 407.7,772.3 408.8,775.8 410.2,776.1 411.3,774.3 412.5,774.9 413.5,773.9 414.5,774.1 415.5,773.7 416.5,774.9 417.5,774.8 418.5,774.6 419.5,773.8 420.5,774.4 421.5,774.2 422.5,774.3 423.5,774.2 424.5,774.5 425.5,774.1 426.5,774.6 427.5,774.4 428.5,774.2 429.5,774.3 430.5,774.1 431.5,774.6 432.5,774.2 433.5,774.4 434.5,774.1 435.5,773.7 436.5,774.7 437.5,773.9 438.5,774.6 439.5,774.5 440.5,773.6 441.5,773.9 442.5,774.1 443.5,774.0 444.5,773.8 445.5,774.6 446.5,774.2 447.5,774.5 449.8,774.3 450.7,775.3 451.0,786.3 451.3,833.7 451.8,833.7 453.0,806.7 454.9,787.5 456.0,778.8 457.8,772.6 460.3,773.0 465.3,773.4 465.5,772.4 466.5,773.5 467.5,773.1 468.5,773.9 469.5,773.3 470.5,773.1 471.5,773.3 472.5,773.4 473.5,773.1 474.5,773.3 475.5,772.8 476.5,773.2 477.5,773.6 478.5,774.1 479.5,773.6 480.5,773.4 481.5,773.8 482.5,773.7 483.5,774.0 484.5,773.7 485.5,773.2 486.5,773.4 487.5,773.3 488.5,773.4 489.5,773.3 490.5,772.9 491.5,772.4 492.5,773.0 493.5,772.4 494.5,773.2 496.7,773.2 497.2,773.7 497.8,537.7 497.9,529.7 498.1,537.7 498.6,712.8 499.5,736.1 500.7,758.4 501.8,772.3 502.9,775.8 504.3,776.1 505.4,774.3 506.5,774.7 507.5,774.0 508.5,774.1 509.5,774.0 510.5,774.0 511.5,774.3 512.5,773.7 513.5,773.9 514.5,774.5 515.5,774.3 516.5,774.5 517.5,773.5 518.5,774.0 519.5,774.1 520.5,774.3 521.5,774.1 522.5,774.7 523.5,774.3 524.5,774.3 525.5,774.3 526.5,774.6 527.5,774.1 528.5,774.7 529.5,774.5 530.5,774.4 531.5,774.3 532.5,774.5 533.5,774.7 534.5,774.7 535.5,774.5 536.5,774.7 537.5,774.3 538.5,774.8 539.5,774.3 540.5,773.5 541.5,774.8 542.5,774.3 544.1,774.3 545.0,775.3 545.3,786.3 545.6,834.0 546.1,834.0 547.3,807.0 549.2,787.8 550.3,779.1 552.1,772.5 554.6,772.9 559.6,773.3 560.5,772.5 561.5,773.7 562.5,773.0 563.5,774.1 564.5,773.4 565.5,773.1 566.5,773.6 567.5,773.3 568.5,772.9 569.5,773.4 570.5,772.9 571.5,772.4 572.5,773.9 573.5,772.9 574.5,772.8 575.5,773.1" fill="none" stroke="#e5101a" stroke-width="1.9" stroke-linejoin="round" />
<polyline points="73.5,763.1 74.5,763.0 75.5,763.3 76.5,763.1 77.5,763.2 78.5,763.6 79.5,762.6 80.5,762.9 81.5,762.8 82.5,761.9 83.5,762.7 84.5,762.2 85.5,763.5 86.5,763.3 87.5,763.2 88.5,762.6 89.5,763.5 90.5,763.2 91.5,764.2 92.5,763.8 93.5,763.6 94.5,764.7 95.5,764.7 96.5,764.2 97.5,765.3 98.5,764.5 99.5,764.6 100.5,764.8 101.5,764.4 102.5,764.6 103.5,764.7 104.5,765.7 105.5,765.7 106.5,764.8 107.5,765.8 108.5,764.9 109.5,765.2 110.5,765.6 111.5,765.5 112.5,766.9 113.5,765.9 114.5,765.3 115.5,766.9 116.5,766.2 117.5,766.5 118.7,766.8 120.0,767.8 120.4,773.3 120.8,772.3 121.2,703.7 121.5,700.7 121.8,704.7 122.9,729.3 124.1,751.8 125.1,762.8 125.9,764.3 126.9,765.3 127.7,769.3 128.8,768.8 129.5,769.0 130.5,768.1 131.5,769.1 132.5,768.8 133.5,768.5 134.5,769.2 135.5,768.8 136.5,768.2 137.5,768.5 138.5,770.1 139.5,768.3 140.5,769.3 141.5,769.5 142.5,769.6 143.5,768.6 144.5,769.1 145.5,769.4 146.5,769.8 147.5,769.1 148.5,768.8 149.5,770.0 150.5,770.1 151.5,769.8 152.5,769.3 153.5,769.9 154.5,769.8 155.5,770.3 156.5,769.2 157.5,770.0 158.5,769.9 159.5,769.4 160.5,770.2 161.5,770.1 162.5,769.9 163.5,770.4 164.5,769.5 165.7,770.3 167.3,769.1 167.8,772.3 168.2,785.3 168.8,803.9 169.4,802.9 170.8,793.4 172.2,784.2 173.6,776.9 176.3,772.9 179.2,770.9 182.2,769.4 182.5,769.7 183.5,770.3 184.5,769.3 185.5,769.7 186.5,768.4 187.5,768.0 188.5,769.5 189.5,769.4 190.5,768.8 191.5,768.6 192.5,768.5 193.5,768.0 194.5,769.2 195.5,768.7 196.5,768.6 197.5,768.5 198.5,768.8 199.5,768.5 200.5,768.6 201.5,767.5 202.5,768.4 203.5,769.3 204.5,767.8 205.5,768.0 206.5,768.5 207.5,768.5 208.5,768.3 209.5,767.1 210.5,768.2 211.5,767.2 212.4,767.9 213.7,768.9 214.1,774.4 214.5,773.4 214.9,704.3 215.2,701.3 215.5,705.3 216.6,730.8 217.8,754.1 218.8,765.7 219.6,767.2 220.6,768.2 221.4,772.2 222.5,771.7 223.5,771.1 224.5,771.3 225.5,771.6 226.5,771.2 227.5,771.0 228.5,771.0 229.5,772.0 230.5,771.8 231.5,772.4 232.5,772.4 233.5,771.7 234.5,772.3 235.5,771.1 236.5,773.2 237.5,772.6 238.5,771.9 239.5,771.4 240.5,772.2 241.5,771.0 242.5,771.7 243.5,772.6 244.5,772.2 245.5,772.0 246.5,772.8 247.5,771.8 248.5,772.5 249.5,772.1 250.5,772.0 251.5,772.8 252.5,772.0 253.5,773.6 254.5,772.3 255.5,773.8 256.5,772.1 257.5,773.1 258.5,772.2 259.8,772.9 261.4,771.7 261.9,774.9 262.3,787.9 262.9,805.4 263.5,804.4 264.9,794.9 266.3,785.7 267.7,778.4 270.4,775.5 273.3,773.5 276.3,772.0 276.5,771.8 277.5,771.3 278.5,771.6 279.5,772.6 280.5,771.5 281.5,771.3 282.5,772.3 283.5,771.7 284.5,771.4 285.5,771.0 286.5,770.4 287.5,770.5 288.5,770.8 289.5,770.9 290.5,771.1 291.5,771.1 292.5,770.9 293.5,770.8 294.5,770.0 295.5,769.2 296.5,770.0 297.5,769.7 298.5,769.7 299.5,769.8 300.5,769.2 301.5,769.2 302.5,769.6 303.5,769.6 304.5,769.1 305.5,769.6 306.8,769.3 308.1,770.3 308.5,775.8 308.9,774.8 309.3,707.2 309.5,704.2 309.9,708.2 311.0,733.1 312.2,755.8 313.2,767.0 314.0,768.5 315.0,769.5 315.8,773.5 316.9,773.0 317.5,772.9 318.5,772.9 319.5,773.3 320.5,773.0 321.5,772.9 322.5,773.7 323.5,772.6 324.5,772.4 325.5,773.4 326.5,773.4 327.5,773.6 328.5,772.4 329.5,773.6 330.5,773.3 331.5,774.0 332.5,772.3 333.5,773.1 334.5,772.8 335.5,772.1 336.5,772.6 337.5,773.6 338.5,772.7 339.5,772.6 340.5,773.4 341.5,773.5 342.5,773.5 343.5,772.5 344.5,772.9 345.5,773.5 346.5,772.5 347.5,772.5 348.5,773.3 349.5,773.7 350.5,772.2 351.5,771.4 352.5,772.0 353.5,772.3 354.3,772.8 355.9,771.6 356.4,774.8 356.8,787.8 357.4,805.8 358.0,804.8 359.4,795.3 360.8,786.1 362.2,778.8 364.9,775.5 367.8,773.5 370.8,772.0 371.5,771.8 372.5,771.5 373.5,771.1 374.5,771.2 375.5,771.7 376.5,771.6 377.5,772.3 378.5,771.2 379.5,772.1 380.5,771.6 381.5,771.4 382.5,770.2 383.5,770.4 384.5,771.5 385.5,771.7 386.5,771.0 387.5,771.2 388.5,770.4 389.5,770.4 390.5,770.1 391.5,770.9 392.5,770.5 393.5,770.0 394.5,769.9 395.5,770.3 396.5,770.1 397.5,769.3 398.5,770.6 399.5,769.7 400.5,769.5 401.2,769.5 402.5,770.5 402.9,776.0 403.3,775.0 403.7,708.3 403.9,705.3 404.3,709.3 405.4,733.7 406.6,756.0 407.6,766.9 408.4,768.4 409.4,769.4 410.2,773.4 411.3,772.9 412.5,772.4 413.5,772.8 414.5,773.1 415.5,773.2 416.5,773.9 417.5,773.1 418.5,773.4 419.5,772.6 420.5,773.3 421.5,772.9 422.5,772.6 423.5,772.8 424.5,772.8 425.5,772.9 426.5,773.0 427.5,772.5 428.5,772.4 429.5,773.2 430.5,771.9 431.5,772.4 432.5,773.6 433.5,771.2 434.5,772.3 435.5,773.1 436.5,771.7 437.5,774.1 438.5,771.2 439.5,773.4 440.5,773.4 441.5,773.0 442.5,772.4 443.5,772.7 444.5,772.0 445.5,772.9 446.5,771.8 447.5,772.2 448.8,772.4 450.4,771.2 450.9,774.4 451.3,787.4 451.9,805.4 452.5,804.4 453.9,794.9 455.3,785.7 456.7,778.4 459.4,775.0 462.3,773.0 465.3,771.5 465.5,772.0 466.5,771.2 467.5,771.1 468.5,770.7 469.5,771.6 470.5,771.8 471.5,772.4 472.5,771.9 473.5,771.2 474.5,770.9 475.5,771.2 476.5,770.9 477.5,771.6 478.5,771.3 479.5,770.2 480.5,770.2 481.5,771.3 482.5,770.6 483.5,770.2 484.5,770.9 485.5,770.0 486.5,770.0 487.5,769.8 488.5,768.9 489.5,770.4 490.5,769.2 491.5,769.4 492.5,769.3 493.5,770.0 494.5,769.5 495.3,769.5 496.6,770.5 497.0,776.0 497.4,775.0 497.8,709.8 498.0,706.8 498.4,710.8 499.5,734.6 500.7,756.5 501.7,767.0 502.5,768.5 503.5,769.5 504.3,773.5 505.4,773.0 506.5,772.9 507.5,773.5 508.5,773.6 509.5,772.3 510.5,773.6 511.5,773.3 512.5,773.5 513.5,773.3 514.5,772.3 515.5,772.4 516.5,774.0 517.5,773.1 518.5,772.2 519.5,773.2 520.5,772.8 521.5,772.0 522.5,771.7 523.5,772.1 524.5,773.1 525.5,772.9 526.5,772.8 527.5,773.1 528.5,773.3 529.5,771.8 530.5,772.8 531.5,772.5 532.5,772.2 533.5,772.6 534.5,772.8 535.5,772.7 536.5,772.1 537.5,772.6 538.5,774.0 539.5,772.3 540.5,771.9 541.5,773.0 542.5,773.2 543.1,772.8 544.7,771.6 545.2,774.8 545.6,787.8 546.2,805.2 546.8,804.2 548.2,794.7 549.6,785.5 551.0,778.2 553.7,775.0 556.6,773.0 559.6,771.5 560.5,771.3 561.5,771.4 562.5,771.2 563.5,771.1 564.5,772.1 565.5,769.9 566.5,771.8 567.5,772.5 568.5,771.2 569.5,771.2 570.5,771.6 571.5,772.1 572.5,770.4 573.5,771.1 574.5,770.9 575.5,771.3" fill="none" stroke="#0a0a0a" stroke-width="2.7" stroke-linejoin="round" />
<line x1="73.00" y1="514.20" x2="73.00" y2="873.40" stroke="#111" stroke-width="2.0" />
<line x1="72.00" y1="872.40" x2="577.40" y2="872.40" stroke="#111" stroke-width="2.0" />
<line x1="66.80" y1="872.40" x2="73.00" y2="872.40" stroke="#111" stroke-width="1.8" />
<line x1="66.80" y1="803.24" x2="73.00" y2="803.24" stroke="#111" stroke-width="1.8" />
<line x1="66.80" y1="734.08" x2="73.00" y2="734.08" stroke="#111" stroke-width="1.8" />
<line x1="66.80" y1="664.92" x2="73.00" y2="664.92" stroke="#111" stroke-width="1.8" />
<line x1="66.80" y1="595.76" x2="73.00" y2="595.76" stroke="#111" stroke-width="1.8" />
<line x1="66.80" y1="526.60" x2="73.00" y2="526.60" stroke="#111" stroke-width="1.8" />
<line x1="73.00" y1="872.40" x2="73.00" y2="878.20" stroke="#111" stroke-width="1.8" />
<line x1="113.15" y1="872.40" x2="113.15" y2="878.20" stroke="#111" stroke-width="1.8" />
<line x1="153.30" y1="872.40" x2="153.30" y2="878.20" stroke="#111" stroke-width="1.8" />
<line x1="193.45" y1="872.40" x2="193.45" y2="878.20" stroke="#111" stroke-width="1.8" />
<line x1="233.60" y1="872.40" x2="233.60" y2="878.20" stroke="#111" stroke-width="1.8" />
<line x1="273.75" y1="872.40" x2="273.75" y2="878.20" stroke="#111" stroke-width="1.8" />
<line x1="313.90" y1="872.40" x2="313.90" y2="878.20" stroke="#111" stroke-width="1.8" />
<line x1="354.05" y1="872.40" x2="354.05" y2="878.20" stroke="#111" stroke-width="1.8" />
<line x1="394.20" y1="872.40" x2="394.20" y2="878.20" stroke="#111" stroke-width="1.8" />
<line x1="434.35" y1="872.40" x2="434.35" y2="878.20" stroke="#111" stroke-width="1.8" />
<line x1="474.50" y1="872.40" x2="474.50" y2="878.20" stroke="#111" stroke-width="1.8" />
<line x1="514.65" y1="872.40" x2="514.65" y2="878.20" stroke="#111" stroke-width="1.8" />
<line x1="554.80" y1="872.40" x2="554.80" y2="878.20" stroke="#111" stroke-width="1.8" />
<text x="56.30" y="879.00" font-size="18" font-weight="bold" text-anchor="end" fill="#000"  >-0.8</text>
<text x="56.30" y="809.84" font-size="18" font-weight="bold" text-anchor="end" fill="#000"  >-0.3</text>
<text x="56.30" y="740.68" font-size="18" font-weight="bold" text-anchor="end" fill="#000"  >0.2</text>
<text x="56.30" y="671.52" font-size="18" font-weight="bold" text-anchor="end" fill="#000"  >0.7</text>
<text x="56.30" y="602.36" font-size="18" font-weight="bold" text-anchor="end" fill="#000"  >1.2</text>
<text x="56.30" y="533.20" font-size="18" font-weight="bold" text-anchor="end" fill="#000"  >1.7</text>
<text x="73.00" y="901.80" font-size="17.2" font-weight="bold" text-anchor="middle" fill="#000"  >0</text>
<text x="113.15" y="901.80" font-size="17.2" font-weight="bold" text-anchor="middle" fill="#000"  >1</text>
<text x="153.30" y="901.80" font-size="17.2" font-weight="bold" text-anchor="middle" fill="#000"  >2</text>
<text x="193.45" y="901.80" font-size="17.2" font-weight="bold" text-anchor="middle" fill="#000"  >3</text>
<text x="233.60" y="901.80" font-size="17.2" font-weight="bold" text-anchor="middle" fill="#000"  >4</text>
<text x="273.75" y="901.80" font-size="17.2" font-weight="bold" text-anchor="middle" fill="#000"  >5</text>
<text x="313.90" y="901.80" font-size="17.2" font-weight="bold" text-anchor="middle" fill="#000"  >6</text>
<text x="354.05" y="901.80" font-size="17.2" font-weight="bold" text-anchor="middle" fill="#000"  >7</text>
<text x="394.20" y="901.80" font-size="17.2" font-weight="bold" text-anchor="middle" fill="#000"  >8</text>
<text x="434.35" y="901.80" font-size="17.2" font-weight="bold" text-anchor="middle" fill="#000"  >9</text>
<text x="474.50" y="901.80" font-size="17.2" font-weight="bold" text-anchor="middle" fill="#000"  >10</text>
<text x="514.65" y="901.80" font-size="17.2" font-weight="bold" text-anchor="middle" fill="#000"  >11</text>
<text x="554.80" y="901.80" font-size="17.2" font-weight="bold" text-anchor="middle" fill="#000"  >12</text>
<text x="2.00" y="516.00" font-size="14" font-weight="normal" text-anchor="start" fill="#000"  >(b)</text>
<text x="314.8" y="926" font-size="19" font-weight="bold"><tspan font-style="italic">t</tspan><tspan x="326.6" dy="1.8" font-weight="normal" font-size="23">/</tspan><tspan x="340.6" dy="-1.8">h</tspan></text>
<line x1="370.00" y1="917.30" x2="413.00" y2="917.30" stroke="#111" stroke-width="1.6" />
<path d="M421,917.3 L410.5,913.2 L413,917.3 L410.5,921.4 Z" fill="#111"/>
<text transform="translate(20.8,780) rotate(-90)" font-size="19.5" font-weight="bold">Heat Flow<tspan font-weight="normal"> / mW</tspan></text>
<line x1="14.20" y1="616.00" x2="14.20" y2="581.00" stroke="#111" stroke-width="1.6" />
<path d="M14.2,573.5 L10.3,583.5 L14.2,581 L18.1,583.5 Z" fill="#111"/>
</svg>
</body></html>
